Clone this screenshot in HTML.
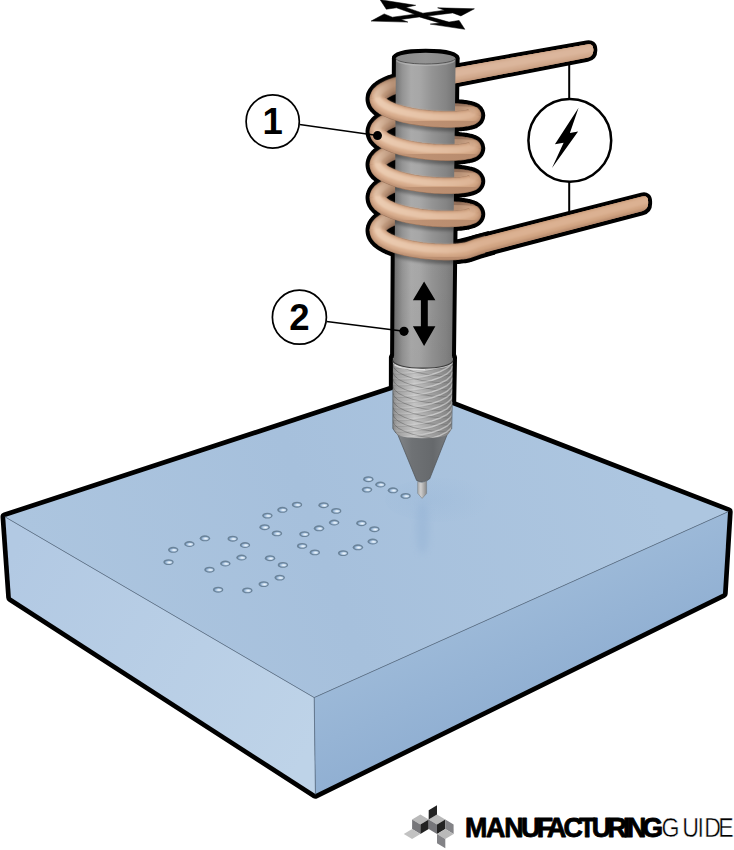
<!DOCTYPE html>
<html lang="en"><head><meta charset="utf-8"><title>Dot peen marking - Manufacturing Guide</title>
<style>
html,body{margin:0;padding:0;background:#fff;}
body{width:734px;height:850px;overflow:hidden;font-family:"Liberation Sans",sans-serif;}
svg{display:block;}
</style></head><body>
<svg width="734" height="850" viewBox="0 0 734 850">
<defs>
<linearGradient id="gTop" gradientUnits="userSpaceOnUse" x1="60" y1="640" x2="640" y2="440">
  <stop offset="0" stop-color="#acc5df"/><stop offset="0.45" stop-color="#a6c0dc"/><stop offset="1" stop-color="#adc6e0"/>
</linearGradient>
<linearGradient id="gLeft" gradientUnits="userSpaceOnUse" x1="8" y1="560" x2="315" y2="740">
  <stop offset="0" stop-color="#b2c9e3"/><stop offset="1" stop-color="#bed3e8"/>
</linearGradient>
<linearGradient id="gRight" gradientUnits="userSpaceOnUse" x1="500" y1="610" x2="540" y2="700">
  <stop offset="0" stop-color="#9cb9d8"/><stop offset="1" stop-color="#90afd2"/>
</linearGradient>
<filter id="fB3" x="-100%" y="-30%" width="300%" height="160%"><feGaussianBlur stdDeviation="3.5"/></filter>
<radialGradient id="gTipShade" gradientUnits="userSpaceOnUse" cx="430" cy="500" r="60" gradientTransform="translate(430 500) scale(1 0.45) translate(-430 -500)">
  <stop offset="0" stop-color="#8fb0d4" stop-opacity="0.22"/><stop offset="1" stop-color="#8fb0d4" stop-opacity="0"/>
</radialGradient>


<radialGradient id="gDot" cx="0.6" cy="0.55" r="0.62">
  <stop offset="0" stop-color="#f3f8fc"/><stop offset="0.35" stop-color="#d2e2f1"/><stop offset="1" stop-color="#7c9fc6"/>
</radialGradient>
<filter id="fDot" x="-30%" y="-30%" width="160%" height="160%"><feGaussianBlur stdDeviation="0.45"/></filter>
<g id="dot">
  <ellipse cx="0" cy="0" rx="5.2" ry="2.95" fill="#6b8399" filter="url(#fDot)"/>
  <ellipse cx="0.15" cy="0.15" rx="3.7" ry="1.75" fill="url(#gDot)" filter="url(#fDot)"/>
</g>


<linearGradient id="gCyl" gradientUnits="userSpaceOnUse" x1="394" y1="0" x2="455" y2="0">
  <stop offset="0" stop-color="#6c6c6c"/><stop offset="0.05" stop-color="#7b7b7b"/><stop offset="0.14" stop-color="#949494"/>
  <stop offset="0.28" stop-color="#aaaaaa"/><stop offset="0.42" stop-color="#a7a7a7"/><stop offset="0.62" stop-color="#949494"/>
  <stop offset="0.86" stop-color="#848484"/><stop offset="1" stop-color="#747474"/>
</linearGradient>
<linearGradient id="gCylV" gradientUnits="userSpaceOnUse" x1="0" y1="58" x2="0" y2="360">
  <stop offset="0" stop-color="#000" stop-opacity="0"/><stop offset="0.65" stop-color="#000" stop-opacity="0.0"/>
  <stop offset="1" stop-color="#000" stop-opacity="0.03"/>
</linearGradient>
<linearGradient id="gCap" gradientUnits="userSpaceOnUse" x1="396" y1="0" x2="455" y2="0">
  <stop offset="0" stop-color="#8a8a8a"/><stop offset="0.5" stop-color="#939393"/><stop offset="1" stop-color="#868686"/>
</linearGradient>
<linearGradient id="gKn" gradientUnits="userSpaceOnUse" x1="392.8" y1="0" x2="452.5" y2="0">
  <stop offset="0" stop-color="#888888"/><stop offset="0.07" stop-color="#a0a0a0"/>
  <stop offset="0.36" stop-color="#c4c4c4"/><stop offset="0.62" stop-color="#a4a4a4"/>
  <stop offset="0.9" stop-color="#888888"/><stop offset="1" stop-color="#767676"/>
</linearGradient>
<linearGradient id="gCone" gradientUnits="userSpaceOnUse" x1="396" y1="0" x2="449" y2="0">
  <stop offset="0" stop-color="#84878a"/><stop offset="0.3" stop-color="#6f7275"/>
  <stop offset="0.7" stop-color="#66696c"/><stop offset="1" stop-color="#7a7d80"/>
</linearGradient>
<linearGradient id="gPin" gradientUnits="userSpaceOnUse" x1="417.7" y1="0" x2="426.6" y2="0">
  <stop offset="0" stop-color="#adadad"/><stop offset="0.35" stop-color="#cfcfcf"/><stop offset="1" stop-color="#888888"/>
</linearGradient>
<linearGradient id="gGrA" gradientUnits="userSpaceOnUse" x1="392" y1="0" x2="453" y2="0">
  <stop offset="0" stop-color="#4c4c4c" stop-opacity="0.5"/><stop offset="0.6" stop-color="#4c4c4c" stop-opacity="0.42"/><stop offset="1" stop-color="#4c4c4c" stop-opacity="0.15"/>
</linearGradient>
<linearGradient id="gGrB" gradientUnits="userSpaceOnUse" x1="392" y1="0" x2="453" y2="0">
  <stop offset="0" stop-color="#fff" stop-opacity="0.05"/><stop offset="0.45" stop-color="#fff" stop-opacity="0.18"/><stop offset="0.7" stop-color="#fff" stop-opacity="0.45"/><stop offset="1" stop-color="#fff" stop-opacity="0.4"/>
</linearGradient>
<clipPath id="cKn"><path d="M392.8 360.6 A29.9 7.6 0 0 0 452.6 360.6 L451.7 429 L448.8 433.4 A26.5 5.2 0 0 1 395.9 433.2 L392.8 428.6 Z"/></clipPath>


<filter id="fB1" x="-10%" y="-10%" width="120%" height="120%"><feGaussianBlur stdDeviation="0.9"/></filter>
<filter id="fB2" x="-10%" y="-10%" width="120%" height="120%"><feGaussianBlur stdDeviation="1.7"/></filter>
<clipPath id="cCyl"><path d="M395.9 58 L455.4 58 L452.0 358 L394.1 358 Z"/></clipPath>

<clipPath id="cLead1"><path d="M425.4 72.9 L587.0 44.4 Q593.2 43.3 593.3 49.6 L593.3 50.3 Q593.4 56.6 587.2 57.8 L425.4 89.2 Z"/></clipPath>
<clipPath id="cLead2"><path d="M300 60 H485 V300 H300 Z M440.0 247.8 L641.9 196.6 Q648.0 195.1 648.1 201.4 L648.1 203.4 Q648.2 209.7 642.1 211.3 L440.0 264.5 Z"/></clipPath>

<linearGradient id="tE" gradientUnits="userSpaceOnUse" x1="368" y1="0" x2="482" y2="0"><stop offset="0" stop-color="#9f795f"/><stop offset="1" stop-color="#936e56"/></linearGradient>
<linearGradient id="tB" gradientUnits="userSpaceOnUse" x1="368" y1="0" x2="482" y2="0"><stop offset="0" stop-color="#c29678"/><stop offset="1" stop-color="#b88b6d"/></linearGradient>
<linearGradient id="tM" gradientUnits="userSpaceOnUse" x1="368" y1="0" x2="482" y2="0"><stop offset="0" stop-color="#dbb091"/><stop offset="1" stop-color="#d1a482"/></linearGradient>
<linearGradient id="tH" gradientUnits="userSpaceOnUse" x1="368" y1="0" x2="482" y2="0"><stop offset="0" stop-color="#eccdb3"/><stop offset="0.5" stop-color="#e6c3a7"/><stop offset="1" stop-color="#dbb192"/></linearGradient>
<linearGradient id="bE" gradientUnits="userSpaceOnUse" x1="368" y1="0" x2="482" y2="0"><stop offset="0.03" stop-color="#9f795f"/><stop offset="0.22" stop-color="#654c3d"/><stop offset="0.8" stop-color="#654c3d"/><stop offset="0.97" stop-color="#936e56"/></linearGradient>
<linearGradient id="bB" gradientUnits="userSpaceOnUse" x1="368" y1="0" x2="482" y2="0"><stop offset="0.03" stop-color="#c29678"/><stop offset="0.22" stop-color="#93705a"/><stop offset="0.8" stop-color="#93705a"/><stop offset="0.97" stop-color="#b88b6d"/></linearGradient>
<linearGradient id="bM" gradientUnits="userSpaceOnUse" x1="368" y1="0" x2="482" y2="0"><stop offset="0.03" stop-color="#dbb091"/><stop offset="0.22" stop-color="#aa856a"/><stop offset="0.8" stop-color="#aa856a"/><stop offset="0.97" stop-color="#d1a482"/></linearGradient>
<linearGradient id="bH" gradientUnits="userSpaceOnUse" x1="368" y1="0" x2="482" y2="0"><stop offset="0.03" stop-color="#eccdb3"/><stop offset="0.22" stop-color="#b79176"/><stop offset="0.8" stop-color="#b79176"/><stop offset="0.97" stop-color="#dbb192"/></linearGradient>
</defs>
<rect width="734" height="850" fill="#fff"/>
<path d="M425.4 79.7 L423.3 80.0 L421.2 80.2 L419.1 80.5 L417.0 80.8 L414.9 81.2 L412.8 81.5 L410.8 81.9 L408.8 82.3 L406.8 82.7 L404.9 83.1 L403.0 83.6 L401.2 84.0 L399.4 84.5 L397.6 85.0 L395.9 85.6 L394.3 86.1 L392.7 86.7 L391.2 87.2 L389.8 87.8 L388.4 88.4 L387.1 89.0 L385.9 89.7 L384.7 90.3 L383.7 91.0 L382.7 91.6 L381.8 92.3 L381.0 93.0 L380.3 93.7 L379.7 94.4 L379.1 95.1 L378.7 95.8 L378.3 96.5 L378.0 97.2 L377.9 98.0 L377.8 98.7 L377.8 99.4 L377.9 100.1 L378.1 100.9 L378.4 101.6 L378.8 102.3 L379.3 103.0 L379.9 103.7 L380.6 104.4 L381.3 105.1 L382.2 105.8 L383.1 106.5 L384.1 107.1 L385.2 107.8 L386.4 108.4 L387.6 109.0 L389.0 109.7 L390.4 110.3 L391.8 110.9 L393.4 111.4 L395.0 112.0 L396.6 112.5 L398.3 113.0 L400.1 113.6 L401.9 114.0 L403.8 114.5 L405.7 115.0 L407.6 115.4 L409.6 115.8 L411.6 116.2 L413.7 116.5 L415.7 116.9 L417.8 117.2 L419.9 117.5 L422.0 117.8 L424.2 118.1 L426.3 118.3 L428.4 118.5 L430.5 118.7 L432.6 118.9 L434.7 119.0 L436.8 119.2 L438.8 119.3 L440.8 119.3 L442.8 119.4 L444.8 119.5 L446.7 119.5 L448.5 119.5 L450.4 119.5 L452.2 119.4 L453.9 119.4 L455.5 119.3 L457.2 119.2 L458.7 119.1 L460.2 119.0 L461.6 118.9 L462.9 118.7 L464.2 118.6 L465.4 118.4 L466.5 118.2 L467.5 118.0 L468.5 117.8 L469.3 117.6 L470.1 117.4 L470.8 117.1 L471.4 116.9 L471.9 116.6 L472.3 116.4 L472.6 116.1 L472.8 115.9 L473.0 115.6 L473.0 115.3 L472.9 115.1 L472.8 114.8 L472.5 114.6 L472.2 114.3 L471.8 114.1 L471.2 113.8 L470.6 113.6 L469.9 113.3 L469.1 113.1 L468.3 112.9 L467.3 112.7 L466.2 112.5 L465.1 112.3 L463.9 112.1 L462.6 112.0 L461.3 111.8 L459.8 111.7 L458.3 111.6 L456.8 111.4 L455.2 111.4 L453.5 111.3 L451.7 111.2 L450.0 111.2 L448.1 111.2 L446.2 111.2 L444.3 111.2 L442.3 111.3 L440.3 111.3 L438.3 111.4 L436.3 111.5 L434.2 111.6 L432.1 111.8 L430.0 112.0 L427.9 112.2 L425.8 112.4 L423.7 112.6 L421.5 112.9 L419.4 113.2 L417.3 113.5 L415.3 113.8 L413.2 114.1 L411.2 114.5 L409.2 114.9 L407.2 115.3 L405.2 115.8 L403.3 116.2 L401.5 116.7 L399.7 117.2 L397.9 117.7 L396.2 118.2 L394.6 118.8 L393.0 119.3 L391.5 119.9 L390.0 120.5 L388.6 121.1 L387.3 121.7 L386.1 122.4 L384.9 123.0 L383.9 123.7 L382.9 124.4 L382.0 125.0 L381.1 125.7 L380.4 126.4 L379.8 127.1 L379.2 127.9 L378.7 128.6 L378.4 129.3 L378.1 130.0 L377.9 130.8 L377.8 131.5 L377.8 132.2 L377.9 133.0 L378.1 133.7 L378.4 134.4 L378.8 135.2 L379.2 135.9 L379.8 136.6 L380.4 137.3 L381.2 138.0 L382.0 138.7 L382.9 139.4 L383.9 140.1 L385.0 140.7 L386.2 141.4 L387.4 142.0 L388.7 142.7 L390.1 143.3 L391.6 143.9 L393.1 144.5 L394.7 145.0 L396.3 145.6 L398.0 146.1 L399.8 146.6 L401.6 147.1 L403.5 147.6 L405.4 148.1 L407.3 148.5 L409.3 148.9 L411.3 149.3 L413.3 149.7 L415.4 150.0 L417.5 150.4 L419.6 150.7 L421.7 151.0 L423.8 151.2 L425.9 151.5 L428.0 151.7 L430.1 151.9 L432.2 152.0 L434.3 152.2 L436.4 152.3 L438.4 152.4 L440.5 152.5 L442.5 152.6 L444.4 152.6 L446.3 152.7 L448.2 152.7 L450.1 152.6 L451.8 152.6 L453.6 152.5 L455.3 152.5 L456.9 152.4 L458.4 152.3 L459.9 152.2 L461.4 152.0 L462.7 151.9 L464.0 151.7 L465.2 151.5 L466.3 151.3 L467.4 151.1 L468.3 150.9 L469.2 150.7 L470.0 150.4 L470.7 150.2 L471.3 149.9 L471.8 149.7 L472.2 149.4 L472.6 149.2 L472.8 148.9 L472.9 148.6 L473.0 148.3 L473.0 148.1 L472.8 147.8 L472.6 147.5 L472.3 147.3 L471.9 147.0 L471.3 146.7 L470.7 146.5 L470.1 146.2 L469.3 146.0 L468.4 145.8 L467.5 145.5 L466.4 145.3 L465.3 145.1 L464.1 144.9 L462.9 144.8 L461.5 144.6 L460.1 144.5 L458.6 144.3 L457.1 144.2 L455.5 144.1 L453.8 144.0 L452.1 144.0 L450.3 143.9 L448.4 143.9 L446.6 143.9 L444.6 143.9 L442.7 144.0 L440.7 144.0 L438.7 144.1 L436.6 144.2 L434.6 144.3 L432.5 144.5 L430.4 144.6 L428.3 144.8 L426.1 145.0 L424.0 145.3 L421.9 145.5 L419.8 145.8 L417.7 146.1 L415.6 146.4 L413.6 146.8 L411.5 147.2 L409.5 147.6 L407.5 148.0 L405.6 148.4 L403.7 148.9 L401.8 149.3 L400.0 149.8 L398.2 150.3 L396.5 150.9 L394.9 151.4 L393.3 152.0 L391.7 152.6 L390.3 153.2 L388.9 153.8 L387.6 154.4 L386.3 155.1 L385.1 155.7 L384.1 156.4 L383.0 157.1 L382.1 157.8 L381.3 158.5 L380.5 159.2 L379.9 159.9 L379.3 160.6 L378.8 161.4 L378.4 162.1 L378.1 162.8 L377.9 163.6 L377.8 164.3 L377.8 165.1 L377.9 165.8 L378.1 166.6 L378.3 167.3 L378.7 168.0 L379.1 168.8 L379.7 169.5 L380.3 170.2 L381.1 170.9 L381.9 171.6 L382.8 172.3 L383.7 173.0 L384.8 173.7 L386.0 174.4 L387.2 175.0 L388.5 175.7 L389.9 176.3 L391.3 176.9 L392.8 177.5 L394.4 178.1 L396.0 178.6 L397.7 179.2 L399.5 179.7 L401.3 180.2 L403.1 180.7 L405.0 181.2 L407.0 181.6 L408.9 182.0 L410.9 182.4 L413.0 182.8 L415.0 183.2 L417.1 183.5 L419.2 183.8 L421.3 184.1 L423.4 184.4 L425.5 184.6 L427.6 184.8 L429.8 185.0 L431.9 185.2 L434.0 185.4 L436.0 185.5 L438.1 185.6 L440.1 185.7 L442.1 185.8 L444.1 185.8 L446.0 185.8 L447.9 185.8 L449.7 185.8 L451.5 185.8 L453.3 185.7 L455.0 185.6 L456.6 185.5 L458.2 185.4 L459.7 185.3 L461.1 185.2 L462.5 185.0 L463.8 184.8 L465.0 184.6 L466.1 184.4 L467.2 184.2 L468.1 184.0 L469.0 183.8 L469.8 183.5 L470.6 183.3 L471.2 183.0 L471.7 182.7 L472.2 182.5 L472.5 182.2 L472.8 181.9 L472.9 181.6 L473.0 181.3 L473.0 181.1 L472.9 180.8 L472.6 180.5 L472.3 180.2 L471.9 179.9 L471.4 179.7 L470.9 179.4 L470.2 179.1 L469.4 178.9 L468.6 178.7 L467.6 178.4 L466.6 178.2 L465.5 178.0 L464.3 177.8 L463.1 177.6 L461.8 177.4 L460.4 177.3 L458.9 177.1 L457.3 177.0 L455.7 176.9 L454.1 176.8 L452.4 176.7 L450.6 176.7 L448.8 176.7 L446.9 176.6 L445.0 176.6 L443.0 176.7 L441.1 176.7 L439.0 176.8 L437.0 176.9 L434.9 177.0 L432.8 177.1 L430.7 177.3 L428.6 177.5 L426.5 177.7 L424.4 177.9 L422.3 178.2 L420.2 178.5 L418.1 178.8 L416.0 179.1 L413.9 179.4 L411.9 179.8 L409.9 180.2 L407.9 180.6 L405.9 181.0 L404.0 181.5 L402.1 182.0 L400.3 182.5 L398.5 183.0 L396.8 183.5 L395.2 184.1 L393.5 184.6 L392.0 185.2 L390.5 185.8 L389.1 186.5 L387.8 187.1 L386.5 187.8 L385.3 188.4 L384.2 189.1 L383.2 189.8 L382.3 190.5 L381.4 191.2 L380.7 191.9 L380.0 192.6 L379.4 193.4 L378.9 194.1 L378.5 194.9 L378.2 195.6 L378.0 196.4 L377.8 197.1 L377.8 197.9 L377.9 198.6 L378.0 199.4 L378.3 200.1 L378.6 200.9 L379.1 201.6 L379.6 202.4 L380.2 203.1 L380.9 203.8 L381.7 204.6 L382.6 205.3 L383.6 206.0 L384.6 206.7 L385.8 207.3 L387.0 208.0 L388.3 208.7 L389.6 209.3 L391.0 209.9 L392.5 210.5 L394.1 211.1 L395.7 211.7 L397.4 212.2 L399.2 212.8 L401.0 213.3 L402.8 213.8 L404.7 214.2 L406.6 214.7 L408.6 215.1 L410.6 215.5 L412.6 215.9 L414.7 216.3 L416.7 216.6 L418.8 217.0 L420.9 217.3 L423.0 217.5 L425.2 217.8 L427.3 218.0 L429.4 218.2 L431.5 218.4 L433.6 218.5 L435.7 218.7 L437.7 218.8 L439.8 218.9 L441.8 218.9 L443.7 219.0 L445.7 219.0 L447.6 219.0 L449.4 219.0 L451.2 218.9 L453.0 218.9 L454.7 218.8 L456.3 218.7 L457.9 218.6 L459.4 218.5 L460.9 218.3 L462.2 218.1 L463.5 218.0 L464.8 217.8 L465.9 217.6 L467.0 217.3 L468.0 217.1 L468.9 216.9 L469.7 216.6 L470.4 216.3 L471.1 216.1 L471.6 215.8 L472.1 215.5 L472.5 215.2 L472.7 214.9 L472.9 214.6 L473.0 214.3 L473.0 214.1 L472.9 213.8 L472.7 213.5 L472.4 213.2 L472.0 212.9 L471.5 212.6 L471.0 212.3 L470.3 212.1 L469.6 211.8 L468.7 211.5 L467.8 211.3 L466.8 211.1 L465.7 210.8 L464.6 210.6 L463.3 210.4 L462.0 210.2 L460.6 210.1 L459.1 209.9 L457.6 209.8 L456.0 209.7 L454.4 209.6 L452.7 209.5 L450.9 209.4 L449.1 209.4 L447.2 209.4 L445.3 209.4 L443.4 209.4 L441.4 209.4 L439.4 209.5 L437.4 209.6 L435.3 209.7 L433.2 209.8 L431.1 210.0 L429.0 210.2 L426.9 210.4 L424.8 210.6 L422.7 210.8 L420.5 211.1 L418.4 211.4 L416.4 211.7 L414.3 212.1 L412.2 212.4 L410.2 212.8 L408.2 213.2 L406.3 213.7 L404.3 214.1 L402.5 214.6 L400.6 215.1 L398.9 215.6 L397.1 216.2 L395.4 216.7 L393.8 217.3 L392.3 217.9 L390.8 218.5 L389.4 219.1 L388.0 219.8 L386.7 220.4 L385.5 221.1 L384.4 221.8 L383.4 222.5 L382.4 223.2 L381.6 223.9 L380.8 224.7 L380.1 225.4 L379.5 226.1 L379.0 226.9 L378.6 227.6 L378.2 228.4 L378.0 229.2 L377.8 229.9 L377.8 230.7 L377.9 229.8 L377.8 230.7 L377.9 231.6 L378.1 232.5 L378.4 233.5 L378.9 234.4 L379.5 235.3 L380.2 236.2 L381.1 237.1 L382.1 237.9 L383.2 238.8 L384.4 239.6 L385.8 240.4 L387.2 241.3 L388.8 242.0 L390.5 242.8 L392.3 243.5 L394.1 244.3 L396.1 245.0 L398.2 245.6 L400.3 246.3 L402.5 246.9 L404.7 247.4 L407.0 248.0 L409.4 248.5 L411.8 249.0 L414.3 249.4 L416.8 249.8 L419.3 250.2 L421.8 250.6 L424.4 250.9 L426.9 251.2 L429.4 251.4 L432.0 251.6 L434.5 251.8 L436.9 251.9 L439.4 252.0 L441.8 252.1 L444.2 252.2 L446.5 252.2 L448.7 252.2 L450.9 252.1 L453.0 252.0 L455.0 251.9 L457.0 251.8 L458.8 251.6 L460.6 251.4 L462.3 251.2 L463.8 251.0 L465.3 250.8 L466.6 250.5 L467.8 250.2 L478.0 246.6 L492.0 242.7" fill="none" stroke="#000" stroke-width="24.5" stroke-linejoin="round" stroke-linecap="butt"/>
<path d="M425.4 79.7 L421.7 80.2 L418.0 80.7 L414.3 81.3 L410.7 81.9 L407.2 82.6 L403.8 83.4 L400.5 84.2 L397.4 85.1 L394.5 86.0 L391.7 87.0 L389.2 88.1 L386.9 89.2 L384.8 90.3 L383.0 91.4 L381.4 92.6 L380.1 93.9 L379.1 95.1 L378.4 96.4 L377.9 97.6 L377.8 98.9 L377.9 100.2 L378.4 101.4 L379.1 102.7 L380.1 104.0 L381.4 105.2 L383.0 106.4 L384.8 107.5 L386.9 108.7 L389.2 109.8 L391.7 110.8 L394.5 111.8 L397.4 112.8 L400.5 113.7 L403.8 114.5 L407.2 115.3 L410.7 116.0 L414.3 116.6 L418.0 117.2 L421.7 117.8 L425.4 118.2 L429.1 118.6 L432.8 118.9 L436.5 119.1 L440.1 119.3 L443.6 119.4 L447.0 119.5 L450.3 119.5 L453.4 119.4 L456.3 119.3 L459.1 119.1 L461.6 118.9 L463.9 118.6 L466.0 118.3 L467.8 117.9 L469.4 117.6 L470.7 117.2 L471.7 116.7 L472.4 116.3 L472.9 115.8 L473.0 115.4 L472.9 114.9 L472.4 114.5 L471.7 114.0 L470.7 113.6 L469.4 113.2 L467.8 112.8 L466.0 112.4 L463.9 112.1 L461.6 111.8 L459.1 111.6 L456.3 111.4 L453.4 111.3 L450.3 111.2 L447.0 111.2 L443.6 111.2 L440.1 111.3 L436.5 111.5 L432.8 111.7 L429.1 112.0 L425.4 112.4 L421.7 112.9 L418.0 113.4 L414.3 114.0 L410.7 114.6 L407.2 115.3 L403.8 116.1 L400.5 116.9 L397.4 117.8 L394.5 118.8 L391.7 119.8 L389.2 120.9 L386.9 122.0 L384.8 123.1 L383.0 124.3 L381.4 125.5 L380.1 126.7 L379.1 128.0 L378.4 129.3 L377.9 130.6 L377.8 131.9 L377.9 133.1 L378.4 134.4 L379.1 135.7 L380.1 137.0 L381.4 138.2 L383.0 139.4 L384.8 140.6 L386.9 141.8 L389.2 142.9 L391.7 143.9 L394.5 145.0 L397.4 145.9 L400.5 146.8 L403.8 147.7 L407.2 148.5 L410.7 149.2 L414.3 149.8 L418.0 150.4 L421.7 151.0 L425.4 151.4 Z" fill="#000"/>
<path d="M425.4 112.4 L421.7 112.9 L418.0 113.4 L414.3 114.0 L410.7 114.6 L407.2 115.3 L403.8 116.1 L400.5 116.9 L397.4 117.8 L394.5 118.8 L391.7 119.8 L389.2 120.9 L386.9 122.0 L384.8 123.1 L383.0 124.3 L381.4 125.5 L380.1 126.7 L379.1 128.0 L378.4 129.3 L377.9 130.6 L377.8 131.9 L377.9 133.1 L378.4 134.4 L379.1 135.7 L380.1 137.0 L381.4 138.2 L383.0 139.4 L384.8 140.6 L386.9 141.8 L389.2 142.9 L391.7 143.9 L394.5 145.0 L397.4 145.9 L400.5 146.8 L403.8 147.7 L407.2 148.5 L410.7 149.2 L414.3 149.8 L418.0 150.4 L421.7 151.0 L425.4 151.4 L429.1 151.8 L432.8 152.1 L436.5 152.3 L440.1 152.5 L443.6 152.6 L447.0 152.7 L450.3 152.6 L453.4 152.6 L456.3 152.4 L459.1 152.2 L461.6 152.0 L463.9 151.7 L466.0 151.4 L467.8 151.0 L469.4 150.6 L470.7 150.2 L471.7 149.7 L472.4 149.3 L472.9 148.8 L473.0 148.3 L472.9 147.8 L472.4 147.4 L471.7 146.9 L470.7 146.5 L469.4 146.0 L467.8 145.6 L466.0 145.3 L463.9 144.9 L461.6 144.6 L459.1 144.4 L456.3 144.2 L453.4 144.0 L450.3 143.9 L447.0 143.9 L443.6 143.9 L440.1 144.0 L436.5 144.2 L432.8 144.4 L429.1 144.7 L425.4 145.1 L421.7 145.6 L418.0 146.1 L414.3 146.7 L410.7 147.3 L407.2 148.0 L403.8 148.8 L400.5 149.7 L397.4 150.6 L394.5 151.5 L391.7 152.6 L389.2 153.6 L386.9 154.8 L384.8 155.9 L383.0 157.1 L381.4 158.3 L380.1 159.6 L379.1 160.9 L378.4 162.2 L377.9 163.5 L377.8 164.8 L377.9 166.1 L378.4 167.4 L379.1 168.7 L380.1 170.0 L381.4 171.3 L383.0 172.5 L384.8 173.7 L386.9 174.9 L389.2 176.0 L391.7 177.1 L394.5 178.1 L397.4 179.1 L400.5 180.0 L403.8 180.9 L407.2 181.6 L410.7 182.4 L414.3 183.0 L418.0 183.6 L421.7 184.2 L425.4 184.6 Z" fill="#000"/>
<path d="M425.4 145.1 L421.7 145.6 L418.0 146.1 L414.3 146.7 L410.7 147.3 L407.2 148.0 L403.8 148.8 L400.5 149.7 L397.4 150.6 L394.5 151.5 L391.7 152.6 L389.2 153.6 L386.9 154.8 L384.8 155.9 L383.0 157.1 L381.4 158.3 L380.1 159.6 L379.1 160.9 L378.4 162.2 L377.9 163.5 L377.8 164.8 L377.9 166.1 L378.4 167.4 L379.1 168.7 L380.1 170.0 L381.4 171.3 L383.0 172.5 L384.8 173.7 L386.9 174.9 L389.2 176.0 L391.7 177.1 L394.5 178.1 L397.4 179.1 L400.5 180.0 L403.8 180.9 L407.2 181.6 L410.7 182.4 L414.3 183.0 L418.0 183.6 L421.7 184.2 L425.4 184.6 L429.1 185.0 L432.8 185.3 L436.5 185.5 L440.1 185.7 L443.6 185.8 L447.0 185.8 L450.3 185.8 L453.4 185.7 L456.3 185.6 L459.1 185.4 L461.6 185.1 L463.9 184.8 L466.0 184.5 L467.8 184.1 L469.4 183.7 L470.7 183.2 L471.7 182.8 L472.4 182.3 L472.9 181.8 L473.0 181.3 L472.9 180.8 L472.4 180.3 L471.7 179.8 L470.7 179.3 L469.4 178.9 L467.8 178.5 L466.0 178.1 L463.9 177.7 L461.6 177.4 L459.1 177.1 L456.3 176.9 L453.4 176.8 L450.3 176.7 L447.0 176.6 L443.6 176.7 L440.1 176.8 L436.5 176.9 L432.8 177.1 L429.1 177.4 L425.4 177.8 L421.7 178.3 L418.0 178.8 L414.3 179.4 L410.7 180.0 L407.2 180.8 L403.8 181.6 L400.5 182.4 L397.4 183.3 L394.5 184.3 L391.7 185.3 L389.2 186.4 L386.9 187.6 L384.8 188.7 L383.0 190.0 L381.4 191.2 L380.1 192.5 L379.1 193.8 L378.4 195.1 L377.9 196.4 L377.8 197.8 L377.9 199.1 L378.4 200.4 L379.1 201.7 L380.1 203.0 L381.4 204.3 L383.0 205.6 L384.8 206.8 L386.9 208.0 L389.2 209.1 L391.7 210.2 L394.5 211.2 L397.4 212.2 L400.5 213.2 L403.8 214.0 L407.2 214.8 L410.7 215.6 L414.3 216.2 L418.0 216.8 L421.7 217.4 L425.4 217.8 Z" fill="#000"/>
<path d="M425.4 177.8 L421.7 178.3 L418.0 178.8 L414.3 179.4 L410.7 180.0 L407.2 180.8 L403.8 181.6 L400.5 182.4 L397.4 183.3 L394.5 184.3 L391.7 185.3 L389.2 186.4 L386.9 187.6 L384.8 188.7 L383.0 190.0 L381.4 191.2 L380.1 192.5 L379.1 193.8 L378.4 195.1 L377.9 196.4 L377.8 197.8 L377.9 199.1 L378.4 200.4 L379.1 201.7 L380.1 203.0 L381.4 204.3 L383.0 205.6 L384.8 206.8 L386.9 208.0 L389.2 209.1 L391.7 210.2 L394.5 211.2 L397.4 212.2 L400.5 213.2 L403.8 214.0 L407.2 214.8 L410.7 215.6 L414.3 216.2 L418.0 216.8 L421.7 217.4 L425.4 217.8 L429.1 218.2 L432.8 218.5 L436.5 218.7 L440.1 218.9 L443.6 219.0 L447.0 219.0 L450.3 219.0 L453.4 218.9 L456.3 218.7 L459.1 218.5 L461.6 218.2 L463.9 217.9 L466.0 217.5 L467.8 217.1 L469.4 216.7 L470.7 216.2 L471.7 215.8 L472.4 215.3 L472.9 214.7 L473.0 214.2 L472.9 213.7 L472.4 213.2 L471.7 212.7 L470.7 212.2 L469.4 211.7 L467.8 211.3 L466.0 210.9 L463.9 210.5 L461.6 210.2 L459.1 209.9 L456.3 209.7 L453.4 209.5 L450.3 209.4 L447.0 209.4 L443.6 209.4 L440.1 209.5 L436.5 209.6 L432.8 209.8 L429.1 210.1 L425.4 210.5 L421.7 211.0 L418.0 211.5 L414.3 212.1 L410.7 212.7 L407.2 213.5 L403.8 214.3 L400.5 215.1 L397.4 216.1 L394.5 217.1 L391.7 218.1 L389.2 219.2 L386.9 220.4 L384.8 221.6 L383.0 222.8 L381.4 224.1 L380.1 225.3 L379.1 226.7 L378.4 228.0 L377.9 229.3 L377.8 230.7 L377.9 232.1 L378.4 233.4 L379.1 234.7 L380.1 236.1 L381.4 237.4 L383.0 238.6 L384.8 239.9 L386.9 241.1 L389.2 242.2 L391.7 243.3 L394.5 244.4 L397.4 245.4 L400.5 246.3 L403.8 247.2 L407.2 248.0 L410.7 248.8 L414.3 249.4 L418.0 250.0 L421.7 250.6 L425.4 251.0 Z" fill="#000"/>
<path d="M440.0 247.8 L641.9 196.6 Q648.0 195.1 648.1 201.4 L648.1 203.4 Q648.2 209.7 642.1 211.3 L440.0 264.5 Z" fill="#000" stroke="#000" stroke-width="8.0" stroke-linejoin="round"/>
<path d="M425.4 72.9 L587.0 44.4 Q593.2 43.3 593.3 49.6 L593.3 50.3 Q593.4 56.6 587.2 57.8 L425.4 89.2 Z" fill="#000" stroke="#000" stroke-width="8.0" stroke-linejoin="round"/>
<path d="M395.9 58.4 L455.6 58.4 L452.0 355.0 L453.0 357.5 L451.7 429.0 L448.8 433.4 L429.7 478.8 L416.6 480.4 L395.9 433.0 L392.8 428.6 L392.9 357.5 L394.1 355.0 Z" fill="#000" stroke="#000" stroke-width="8.0" stroke-linejoin="round"/><ellipse cx="425.65" cy="58.4" rx="29.75" ry="5.6" fill="#000" stroke="#000" stroke-width="8.0"/>
<path d="M5.2 517.0 L403.7 386.3 L728.0 511.8 L723.0 593.6 L315.4 794.0 L10.9 597.5 Z" fill="#000" stroke="#000" stroke-width="9.4" stroke-linejoin="round"/>
<path d="M5.2 517.0 L403.7 386.3 L728.0 511.8 L314.2 697.6 Z" fill="url(#gTop)"/>
<path d="M5.2 517.0 L314.2 697.6 L315.4 794.0 L10.9 597.5 Z" fill="url(#gLeft)"/>
<path d="M314.2 697.6 L728.0 511.8 L723.0 593.6 L315.4 794.0 Z" fill="url(#gRight)"/>
<ellipse cx="440" cy="500" rx="55" ry="22" fill="url(#gTipShade)"/>
<ellipse cx="422.5" cy="528" rx="6.5" ry="26" fill="#86a8cf" opacity="0.28" filter="url(#fB3)"/>
<path d="M5.2 517.0 L314.2 697.6 L728.0 511.8 M314.2 697.6 L315.4 794.0" fill="none" stroke="#60748a" stroke-width="0.8" stroke-linecap="round"/>
<use href="#dot" x="368.3" y="479.2"/>
<use href="#dot" x="380.4" y="484.5"/>
<use href="#dot" x="367.0" y="489.6"/>
<use href="#dot" x="392.9" y="490.3"/>
<use href="#dot" x="405.6" y="495.9"/>
<use href="#dot" x="297.0" y="504.7"/>
<use href="#dot" x="282.4" y="509.8"/>
<use href="#dot" x="267.4" y="515.6"/>
<use href="#dot" x="323.6" y="505.2"/>
<use href="#dot" x="336.2" y="510.9"/>
<use href="#dot" x="264.6" y="527.2"/>
<use href="#dot" x="276.9" y="533.4"/>
<use href="#dot" x="334.1" y="522.5"/>
<use href="#dot" x="319.0" y="528.3"/>
<use href="#dot" x="304.4" y="534.1"/>
<use href="#dot" x="361.4" y="523.2"/>
<use href="#dot" x="374.4" y="529.2"/>
<use href="#dot" x="372.7" y="541.5"/>
<use href="#dot" x="357.9" y="547.3"/>
<use href="#dot" x="343.1" y="553.1"/>
<use href="#dot" x="302.1" y="545.9"/>
<use href="#dot" x="314.8" y="552.4"/>
<use href="#dot" x="204.9" y="538.3"/>
<use href="#dot" x="189.4" y="544.0"/>
<use href="#dot" x="173.2" y="549.8"/>
<use href="#dot" x="168.5" y="562.1"/>
<use href="#dot" x="232.7" y="538.7"/>
<use href="#dot" x="245.0" y="545.0"/>
<use href="#dot" x="241.5" y="557.5"/>
<use href="#dot" x="225.3" y="563.5"/>
<use href="#dot" x="209.5" y="569.7"/>
<use href="#dot" x="218.1" y="589.7"/>
<use href="#dot" x="247.3" y="590.4"/>
<use href="#dot" x="263.7" y="584.1"/>
<use href="#dot" x="279.7" y="577.6"/>
<use href="#dot" x="282.9" y="564.9"/>
<use href="#dot" x="270.0" y="558.2"/>
<path d="M395.9 430.0 L416.6 480.4 Q423 484.5 429.7 478.8 L448.8 430.4 Z" fill="url(#gCone)" stroke="#4d5256" stroke-width="0.7"/>
<path d="M417.7 481.5 L417.7 493.3 L422.1 498.4 L426.6 493.5 L426.6 481 Q422 483.5 417.7 481.5 Z" fill="url(#gPin)" stroke="#6e7479" stroke-width="0.5"/>
<path d="M392.9 358 L392.8 428.6 L395.9 433.0 A26.5 5.4 0 0 0 448.8 433.4 L451.7 429 L452.9 358 Z" fill="url(#gKn)"/>
<g clip-path="url(#cKn)">
<path d="M392.6 329.2 L394.1 333.3 L398.3 337.2 L405.0 340.6 L413.3 343.5 L422.6 345.6 L431.9 347.0 L440.2 347.7 L446.9 347.7 L451.1 347.4 L452.6 346.8 M392.6 336.2 L394.1 340.3 L398.3 344.2 L405.0 347.6 L413.3 350.5 L422.6 352.6 L431.9 354.0 L440.2 354.7 L446.9 354.7 L451.1 354.4 L452.6 353.8 M392.6 343.2 L394.1 347.3 L398.3 351.2 L405.0 354.6 L413.3 357.5 L422.6 359.6 L431.9 361.0 L440.2 361.7 L446.9 361.7 L451.1 361.4 L452.6 360.8 M392.6 350.2 L394.1 354.3 L398.3 358.2 L405.0 361.6 L413.3 364.5 L422.6 366.6 L431.9 368.0 L440.2 368.7 L446.9 368.7 L451.1 368.4 L452.6 367.8 M392.6 357.2 L394.1 361.3 L398.3 365.2 L405.0 368.6 L413.3 371.5 L422.6 373.6 L431.9 375.0 L440.2 375.7 L446.9 375.7 L451.1 375.4 L452.6 374.8 M392.6 364.2 L394.1 368.3 L398.3 372.2 L405.0 375.6 L413.3 378.5 L422.6 380.6 L431.9 382.0 L440.2 382.7 L446.9 382.7 L451.1 382.4 L452.6 381.8 M392.6 371.2 L394.1 375.3 L398.3 379.2 L405.0 382.6 L413.3 385.5 L422.6 387.6 L431.9 389.0 L440.2 389.7 L446.9 389.7 L451.1 389.4 L452.6 388.8 M392.6 378.2 L394.1 382.3 L398.3 386.2 L405.0 389.6 L413.3 392.5 L422.6 394.6 L431.9 396.0 L440.2 396.7 L446.9 396.7 L451.1 396.4 L452.6 395.8 M392.6 385.2 L394.1 389.3 L398.3 393.2 L405.0 396.6 L413.3 399.5 L422.6 401.6 L431.9 403.0 L440.2 403.7 L446.9 403.7 L451.1 403.4 L452.6 402.8 M392.6 392.2 L394.1 396.3 L398.3 400.2 L405.0 403.6 L413.3 406.5 L422.6 408.6 L431.9 410.0 L440.2 410.7 L446.9 410.7 L451.1 410.4 L452.6 409.8 M392.6 399.2 L394.1 403.3 L398.3 407.2 L405.0 410.6 L413.3 413.5 L422.6 415.6 L431.9 417.0 L440.2 417.7 L446.9 417.7 L451.1 417.4 L452.6 416.8 M392.6 406.2 L394.1 410.3 L398.3 414.2 L405.0 417.6 L413.3 420.5 L422.6 422.6 L431.9 424.0 L440.2 424.7 L446.9 424.7 L451.1 424.4 L452.6 423.8 M392.6 413.2 L394.1 417.3 L398.3 421.2 L405.0 424.6 L413.3 427.5 L422.6 429.6 L431.9 431.0 L440.2 431.7 L446.9 431.7 L451.1 431.4 L452.6 430.8 M392.6 420.2 L394.1 424.3 L398.3 428.2 L405.0 431.6 L413.3 434.5 L422.6 436.6 L431.9 438.0 L440.2 438.7 L446.9 438.7 L451.1 438.4 L452.6 437.8 M392.6 427.2 L394.1 431.3 L398.3 435.2 L405.0 438.6 L413.3 441.5 L422.6 443.6 L431.9 445.0 L440.2 445.7 L446.9 445.7 L451.1 445.4 L452.6 444.8 M392.6 434.2 L394.1 438.3 L398.3 442.2 L405.0 445.6 L413.3 448.5 L422.6 450.6 L431.9 452.0 L440.2 452.7 L446.9 452.7 L451.1 452.4 L452.6 451.8 M392.6 441.2 L394.1 445.3 L398.3 449.2 L405.0 452.6 L413.3 455.5 L422.6 457.6 L431.9 459.0 L440.2 459.7 L446.9 459.7 L451.1 459.4 L452.6 458.8" fill="none" stroke="url(#gGrA)" stroke-width="0.9"/>
<path d="M392.6 348.8 L394.1 349.4 L398.3 349.7 L405.0 349.7 L413.3 349.0 L422.6 347.6 L431.9 345.5 L440.2 342.6 L446.9 339.2 L451.1 335.3 L452.6 331.2 M392.6 354.6 L394.1 355.2 L398.3 355.5 L405.0 355.5 L413.3 354.8 L422.6 353.4 L431.9 351.3 L440.2 348.4 L446.9 345.0 L451.1 341.1 L452.6 337.0 M392.6 360.4 L394.1 361.0 L398.3 361.3 L405.0 361.3 L413.3 360.6 L422.6 359.2 L431.9 357.1 L440.2 354.2 L446.9 350.8 L451.1 346.9 L452.6 342.8 M392.6 366.2 L394.1 366.8 L398.3 367.1 L405.0 367.1 L413.3 366.4 L422.6 365.0 L431.9 362.9 L440.2 360.0 L446.9 356.6 L451.1 352.7 L452.6 348.6 M392.6 372.0 L394.1 372.6 L398.3 372.9 L405.0 372.9 L413.3 372.2 L422.6 370.8 L431.9 368.7 L440.2 365.8 L446.9 362.4 L451.1 358.5 L452.6 354.4 M392.6 377.8 L394.1 378.4 L398.3 378.7 L405.0 378.7 L413.3 378.0 L422.6 376.6 L431.9 374.5 L440.2 371.6 L446.9 368.2 L451.1 364.3 L452.6 360.2 M392.6 383.6 L394.1 384.2 L398.3 384.5 L405.0 384.5 L413.3 383.8 L422.6 382.4 L431.9 380.3 L440.2 377.4 L446.9 374.0 L451.1 370.1 L452.6 366.0 M392.6 389.4 L394.1 390.0 L398.3 390.3 L405.0 390.3 L413.3 389.6 L422.6 388.2 L431.9 386.1 L440.2 383.2 L446.9 379.8 L451.1 375.9 L452.6 371.8 M392.6 395.2 L394.1 395.8 L398.3 396.1 L405.0 396.1 L413.3 395.4 L422.6 394.0 L431.9 391.9 L440.2 389.0 L446.9 385.6 L451.1 381.7 L452.6 377.6 M392.6 401.0 L394.1 401.6 L398.3 401.9 L405.0 401.9 L413.3 401.2 L422.6 399.8 L431.9 397.7 L440.2 394.8 L446.9 391.4 L451.1 387.5 L452.6 383.4 M392.6 406.8 L394.1 407.4 L398.3 407.7 L405.0 407.7 L413.3 407.0 L422.6 405.6 L431.9 403.5 L440.2 400.6 L446.9 397.2 L451.1 393.3 L452.6 389.2 M392.6 412.6 L394.1 413.2 L398.3 413.5 L405.0 413.5 L413.3 412.8 L422.6 411.4 L431.9 409.3 L440.2 406.4 L446.9 403.0 L451.1 399.1 L452.6 395.0 M392.6 418.4 L394.1 419.0 L398.3 419.3 L405.0 419.3 L413.3 418.6 L422.6 417.2 L431.9 415.1 L440.2 412.2 L446.9 408.8 L451.1 404.9 L452.6 400.8 M392.6 424.2 L394.1 424.8 L398.3 425.1 L405.0 425.1 L413.3 424.4 L422.6 423.0 L431.9 420.9 L440.2 418.0 L446.9 414.6 L451.1 410.7 L452.6 406.6 M392.6 430.0 L394.1 430.6 L398.3 430.9 L405.0 430.9 L413.3 430.2 L422.6 428.8 L431.9 426.7 L440.2 423.8 L446.9 420.4 L451.1 416.5 L452.6 412.4 M392.6 435.8 L394.1 436.4 L398.3 436.7 L405.0 436.7 L413.3 436.0 L422.6 434.6 L431.9 432.5 L440.2 429.6 L446.9 426.2 L451.1 422.3 L452.6 418.2 M392.6 441.6 L394.1 442.2 L398.3 442.5 L405.0 442.5 L413.3 441.8 L422.6 440.4 L431.9 438.3 L440.2 435.4 L446.9 432.0 L451.1 428.1 L452.6 424.0 M392.6 447.4 L394.1 448.0 L398.3 448.3 L405.0 448.3 L413.3 447.6 L422.6 446.2 L431.9 444.1 L440.2 441.2 L446.9 437.8 L451.1 433.9 L452.6 429.8 M392.6 453.2 L394.1 453.8 L398.3 454.1 L405.0 454.1 L413.3 453.4 L422.6 452.0 L431.9 449.9 L440.2 447.0 L446.9 443.6 L451.1 439.7 L452.6 435.6 M392.6 459.0 L394.1 459.6 L398.3 459.9 L405.0 459.9 L413.3 459.2 L422.6 457.8 L431.9 455.7 L440.2 452.8 L446.9 449.4 L451.1 445.5 L452.6 441.4" fill="none" stroke="url(#gGrB)" stroke-width="1.5"/>
<path d="M392.6 348.8 L394.1 349.4 L398.3 349.7 L405.0 349.7 L413.3 349.0 L422.6 347.6 L431.9 345.5 L440.2 342.6 L446.9 339.2 L451.1 335.3 L452.6 331.2 M392.6 354.6 L394.1 355.2 L398.3 355.5 L405.0 355.5 L413.3 354.8 L422.6 353.4 L431.9 351.3 L440.2 348.4 L446.9 345.0 L451.1 341.1 L452.6 337.0 M392.6 360.4 L394.1 361.0 L398.3 361.3 L405.0 361.3 L413.3 360.6 L422.6 359.2 L431.9 357.1 L440.2 354.2 L446.9 350.8 L451.1 346.9 L452.6 342.8 M392.6 366.2 L394.1 366.8 L398.3 367.1 L405.0 367.1 L413.3 366.4 L422.6 365.0 L431.9 362.9 L440.2 360.0 L446.9 356.6 L451.1 352.7 L452.6 348.6 M392.6 372.0 L394.1 372.6 L398.3 372.9 L405.0 372.9 L413.3 372.2 L422.6 370.8 L431.9 368.7 L440.2 365.8 L446.9 362.4 L451.1 358.5 L452.6 354.4 M392.6 377.8 L394.1 378.4 L398.3 378.7 L405.0 378.7 L413.3 378.0 L422.6 376.6 L431.9 374.5 L440.2 371.6 L446.9 368.2 L451.1 364.3 L452.6 360.2 M392.6 383.6 L394.1 384.2 L398.3 384.5 L405.0 384.5 L413.3 383.8 L422.6 382.4 L431.9 380.3 L440.2 377.4 L446.9 374.0 L451.1 370.1 L452.6 366.0 M392.6 389.4 L394.1 390.0 L398.3 390.3 L405.0 390.3 L413.3 389.6 L422.6 388.2 L431.9 386.1 L440.2 383.2 L446.9 379.8 L451.1 375.9 L452.6 371.8 M392.6 395.2 L394.1 395.8 L398.3 396.1 L405.0 396.1 L413.3 395.4 L422.6 394.0 L431.9 391.9 L440.2 389.0 L446.9 385.6 L451.1 381.7 L452.6 377.6 M392.6 401.0 L394.1 401.6 L398.3 401.9 L405.0 401.9 L413.3 401.2 L422.6 399.8 L431.9 397.7 L440.2 394.8 L446.9 391.4 L451.1 387.5 L452.6 383.4 M392.6 406.8 L394.1 407.4 L398.3 407.7 L405.0 407.7 L413.3 407.0 L422.6 405.6 L431.9 403.5 L440.2 400.6 L446.9 397.2 L451.1 393.3 L452.6 389.2 M392.6 412.6 L394.1 413.2 L398.3 413.5 L405.0 413.5 L413.3 412.8 L422.6 411.4 L431.9 409.3 L440.2 406.4 L446.9 403.0 L451.1 399.1 L452.6 395.0 M392.6 418.4 L394.1 419.0 L398.3 419.3 L405.0 419.3 L413.3 418.6 L422.6 417.2 L431.9 415.1 L440.2 412.2 L446.9 408.8 L451.1 404.9 L452.6 400.8 M392.6 424.2 L394.1 424.8 L398.3 425.1 L405.0 425.1 L413.3 424.4 L422.6 423.0 L431.9 420.9 L440.2 418.0 L446.9 414.6 L451.1 410.7 L452.6 406.6 M392.6 430.0 L394.1 430.6 L398.3 430.9 L405.0 430.9 L413.3 430.2 L422.6 428.8 L431.9 426.7 L440.2 423.8 L446.9 420.4 L451.1 416.5 L452.6 412.4 M392.6 435.8 L394.1 436.4 L398.3 436.7 L405.0 436.7 L413.3 436.0 L422.6 434.6 L431.9 432.5 L440.2 429.6 L446.9 426.2 L451.1 422.3 L452.6 418.2 M392.6 441.6 L394.1 442.2 L398.3 442.5 L405.0 442.5 L413.3 441.8 L422.6 440.4 L431.9 438.3 L440.2 435.4 L446.9 432.0 L451.1 428.1 L452.6 424.0 M392.6 447.4 L394.1 448.0 L398.3 448.3 L405.0 448.3 L413.3 447.6 L422.6 446.2 L431.9 444.1 L440.2 441.2 L446.9 437.8 L451.1 433.9 L452.6 429.8 M392.6 453.2 L394.1 453.8 L398.3 454.1 L405.0 454.1 L413.3 453.4 L422.6 452.0 L431.9 449.9 L440.2 447.0 L446.9 443.6 L451.1 439.7 L452.6 435.6 M392.6 459.0 L394.1 459.6 L398.3 459.9 L405.0 459.9 L413.3 459.2 L422.6 457.8 L431.9 455.7 L440.2 452.8 L446.9 449.4 L451.1 445.5 L452.6 441.4" fill="none" stroke="url(#gGrA)" stroke-width="0.6" opacity="0.5" transform="translate(0 1.4)"/>
</g>
<path d="M393.2 362.4 A30 7.6 0 0 0 452.6 362.4" fill="none" stroke="#e6e6e6" stroke-width="1.2" opacity="0.6"/>
<path d="M392.8 389 L392.8 428.6 L395.9 433.0 M451.7 429 L452.3 402" fill="none" stroke="#555b61" stroke-width="0.7"/>
<path d="M426.4 79.6 L423.4 80.0 L420.5 80.3 L417.5 80.7 L414.6 81.2 L411.8 81.7 L409.0 82.2 L406.3 82.8 L403.6 83.4 L401.0 84.1 L398.5 84.8 L396.2 85.5 L393.9 86.2 L391.7 87.0 L389.7 87.8 L387.8 88.7 L386.1 89.6 L384.5 90.5 L383.1 91.4 L381.8 92.3 L380.7 93.3 L379.8 94.2 L379.0 95.2 L378.5 96.2 L378.1 97.2 L377.8 98.2 L377.8 99.2" fill="none" stroke="url(#bE)" stroke-width="16.5" stroke-linecap="butt" stroke-linejoin="round" />
<path d="M426.4 79.6 L423.4 80.0 L420.5 80.3 L417.5 80.7 L414.6 81.2 L411.8 81.7 L409.0 82.2 L406.3 82.8 L403.6 83.4 L401.0 84.1 L398.5 84.8 L396.2 85.5 L393.9 86.2 L391.7 87.0 L389.7 87.8 L387.8 88.7 L386.1 89.6 L384.5 90.5 L383.1 91.4 L381.8 92.3 L380.7 93.3 L379.8 94.2 L379.0 95.2 L378.5 96.2 L378.1 97.2 L377.8 98.2 L377.8 99.2" fill="none" stroke="url(#bB)" stroke-width="15.3" stroke-linecap="butt" stroke-linejoin="round" />
<path d="M426.4 79.6 L423.4 80.0 L420.5 80.3 L417.5 80.7 L414.6 81.2 L411.8 81.7 L409.0 82.2 L406.3 82.8 L403.6 83.4 L401.0 84.1 L398.5 84.8 L396.2 85.5 L393.9 86.2 L391.7 87.0 L389.7 87.8 L387.8 88.7 L386.1 89.6 L384.5 90.5 L383.1 91.4 L381.8 92.3 L380.7 93.3 L379.8 94.2 L379.0 95.2 L378.5 96.2 L378.1 97.2 L377.8 98.2 L377.8 99.2" fill="none" stroke="url(#bM)" stroke-width="12.9" stroke-linecap="butt" stroke-linejoin="round" transform="translate(0 -1.2)" filter="url(#fB1)"/>
<path d="M426.4 79.6 L423.4 80.0 L420.5 80.3 L417.5 80.7 L414.6 81.2 L411.8 81.7 L409.0 82.2 L406.3 82.8 L403.6 83.4 L401.0 84.1 L398.5 84.8 L396.2 85.5 L393.9 86.2 L391.7 87.0 L389.7 87.8 L387.8 88.7 L386.1 89.6 L384.5 90.5 L383.1 91.4 L381.8 92.3 L380.7 93.3 L379.8 94.2 L379.0 95.2 L378.5 96.2 L378.1 97.2 L377.8 98.2 L377.8 99.2" fill="none" stroke="url(#bH)" stroke-width="6.9" stroke-linecap="butt" stroke-linejoin="round" transform="translate(-0.3 -2.2)" filter="url(#fB1)"/>
<path d="M473.0 115.5 L473.0 115.1 L472.8 114.8 L472.4 114.4 L471.9 114.1 L471.1 113.8 L470.3 113.4 L469.2 113.1 L468.0 112.8 L466.7 112.6 L465.2 112.3 L463.6 112.1 L461.8 111.9 L459.9 111.7 L457.9 111.5 L455.7 111.4 L453.5 111.3 L451.1 111.2 L448.6 111.2 L446.1 111.2 L443.5 111.2 L440.8 111.3 L438.1 111.4 L435.3 111.6 L432.5 111.8 L429.7 112.0 L426.8 112.3 L424.0 112.6 L421.1 112.9 L418.3 113.3 L415.5 113.8 L412.7 114.2 L410.0 114.7 L407.3 115.3 L404.7 115.9 L402.2 116.5 L399.7 117.2 L397.3 117.9 L395.1 118.6 L392.9 119.3 L390.9 120.1 L389.0 120.9 L387.2 121.8 L385.6 122.7 L384.1 123.5 L382.8 124.4 L381.6 125.4 L380.5 126.3 L379.7 127.3 L378.9 128.2 L378.4 129.2 L378.0 130.2 L377.8 131.2 L377.8 132.2" fill="none" stroke="url(#bE)" stroke-width="16.5" stroke-linecap="butt" stroke-linejoin="round" />
<path d="M473.0 115.5 L473.0 115.1 L472.8 114.8 L472.4 114.4 L471.9 114.1 L471.1 113.8 L470.3 113.4 L469.2 113.1 L468.0 112.8 L466.7 112.6 L465.2 112.3 L463.6 112.1 L461.8 111.9 L459.9 111.7 L457.9 111.5 L455.7 111.4 L453.5 111.3 L451.1 111.2 L448.6 111.2 L446.1 111.2 L443.5 111.2 L440.8 111.3 L438.1 111.4 L435.3 111.6 L432.5 111.8 L429.7 112.0 L426.8 112.3 L424.0 112.6 L421.1 112.9 L418.3 113.3 L415.5 113.8 L412.7 114.2 L410.0 114.7 L407.3 115.3 L404.7 115.9 L402.2 116.5 L399.7 117.2 L397.3 117.9 L395.1 118.6 L392.9 119.3 L390.9 120.1 L389.0 120.9 L387.2 121.8 L385.6 122.7 L384.1 123.5 L382.8 124.4 L381.6 125.4 L380.5 126.3 L379.7 127.3 L378.9 128.2 L378.4 129.2 L378.0 130.2 L377.8 131.2 L377.8 132.2" fill="none" stroke="url(#bB)" stroke-width="15.3" stroke-linecap="butt" stroke-linejoin="round" />
<path d="M473.0 115.5 L473.0 115.1 L472.8 114.8 L472.4 114.4 L471.9 114.1 L471.1 113.8 L470.3 113.4 L469.2 113.1 L468.0 112.8 L466.7 112.6 L465.2 112.3 L463.6 112.1 L461.8 111.9 L459.9 111.7 L457.9 111.5 L455.7 111.4 L453.5 111.3 L451.1 111.2 L448.6 111.2 L446.1 111.2 L443.5 111.2 L440.8 111.3 L438.1 111.4 L435.3 111.6 L432.5 111.8 L429.7 112.0 L426.8 112.3 L424.0 112.6 L421.1 112.9 L418.3 113.3 L415.5 113.8 L412.7 114.2 L410.0 114.7 L407.3 115.3 L404.7 115.9 L402.2 116.5 L399.7 117.2 L397.3 117.9 L395.1 118.6 L392.9 119.3 L390.9 120.1 L389.0 120.9 L387.2 121.8 L385.6 122.7 L384.1 123.5 L382.8 124.4 L381.6 125.4 L380.5 126.3 L379.7 127.3 L378.9 128.2 L378.4 129.2 L378.0 130.2 L377.8 131.2 L377.8 132.2" fill="none" stroke="url(#bM)" stroke-width="12.9" stroke-linecap="butt" stroke-linejoin="round" transform="translate(0 -1.2)" filter="url(#fB1)"/>
<path d="M473.0 115.5 L473.0 115.1 L472.8 114.8 L472.4 114.4 L471.9 114.1 L471.1 113.8 L470.3 113.4 L469.2 113.1 L468.0 112.8 L466.7 112.6 L465.2 112.3 L463.6 112.1 L461.8 111.9 L459.9 111.7 L457.9 111.5 L455.7 111.4 L453.5 111.3 L451.1 111.2 L448.6 111.2 L446.1 111.2 L443.5 111.2 L440.8 111.3 L438.1 111.4 L435.3 111.6 L432.5 111.8 L429.7 112.0 L426.8 112.3 L424.0 112.6 L421.1 112.9 L418.3 113.3 L415.5 113.8 L412.7 114.2 L410.0 114.7 L407.3 115.3 L404.7 115.9 L402.2 116.5 L399.7 117.2 L397.3 117.9 L395.1 118.6 L392.9 119.3 L390.9 120.1 L389.0 120.9 L387.2 121.8 L385.6 122.7 L384.1 123.5 L382.8 124.4 L381.6 125.4 L380.5 126.3 L379.7 127.3 L378.9 128.2 L378.4 129.2 L378.0 130.2 L377.8 131.2 L377.8 132.2" fill="none" stroke="url(#bH)" stroke-width="6.9" stroke-linecap="butt" stroke-linejoin="round" transform="translate(-0.3 -2.2)" filter="url(#fB1)"/>
<path d="M473.0 148.4 L473.0 148.1 L472.8 147.7 L472.4 147.3 L471.9 147.0 L471.1 146.6 L470.3 146.3 L469.2 146.0 L468.0 145.7 L466.7 145.4 L465.2 145.1 L463.6 144.9 L461.8 144.6 L459.9 144.5 L457.9 144.3 L455.7 144.1 L453.5 144.0 L451.1 144.0 L448.6 143.9 L446.1 143.9 L443.5 144.0 L440.8 144.0 L438.1 144.1 L435.3 144.3 L432.5 144.5 L429.7 144.7 L426.8 145.0 L424.0 145.3 L421.1 145.6 L418.3 146.0 L415.5 146.5 L412.7 146.9 L410.0 147.5 L407.3 148.0 L404.7 148.6 L402.2 149.2 L399.7 149.9 L397.3 150.6 L395.1 151.3 L392.9 152.1 L390.9 152.9 L389.0 153.7 L387.2 154.6 L385.6 155.5 L384.1 156.4 L382.8 157.3 L381.6 158.2 L380.5 159.2 L379.7 160.2 L378.9 161.1 L378.4 162.1 L378.0 163.1 L377.8 164.1 L377.8 165.1" fill="none" stroke="url(#bE)" stroke-width="16.5" stroke-linecap="butt" stroke-linejoin="round" />
<path d="M473.0 148.4 L473.0 148.1 L472.8 147.7 L472.4 147.3 L471.9 147.0 L471.1 146.6 L470.3 146.3 L469.2 146.0 L468.0 145.7 L466.7 145.4 L465.2 145.1 L463.6 144.9 L461.8 144.6 L459.9 144.5 L457.9 144.3 L455.7 144.1 L453.5 144.0 L451.1 144.0 L448.6 143.9 L446.1 143.9 L443.5 144.0 L440.8 144.0 L438.1 144.1 L435.3 144.3 L432.5 144.5 L429.7 144.7 L426.8 145.0 L424.0 145.3 L421.1 145.6 L418.3 146.0 L415.5 146.5 L412.7 146.9 L410.0 147.5 L407.3 148.0 L404.7 148.6 L402.2 149.2 L399.7 149.9 L397.3 150.6 L395.1 151.3 L392.9 152.1 L390.9 152.9 L389.0 153.7 L387.2 154.6 L385.6 155.5 L384.1 156.4 L382.8 157.3 L381.6 158.2 L380.5 159.2 L379.7 160.2 L378.9 161.1 L378.4 162.1 L378.0 163.1 L377.8 164.1 L377.8 165.1" fill="none" stroke="url(#bB)" stroke-width="15.3" stroke-linecap="butt" stroke-linejoin="round" />
<path d="M473.0 148.4 L473.0 148.1 L472.8 147.7 L472.4 147.3 L471.9 147.0 L471.1 146.6 L470.3 146.3 L469.2 146.0 L468.0 145.7 L466.7 145.4 L465.2 145.1 L463.6 144.9 L461.8 144.6 L459.9 144.5 L457.9 144.3 L455.7 144.1 L453.5 144.0 L451.1 144.0 L448.6 143.9 L446.1 143.9 L443.5 144.0 L440.8 144.0 L438.1 144.1 L435.3 144.3 L432.5 144.5 L429.7 144.7 L426.8 145.0 L424.0 145.3 L421.1 145.6 L418.3 146.0 L415.5 146.5 L412.7 146.9 L410.0 147.5 L407.3 148.0 L404.7 148.6 L402.2 149.2 L399.7 149.9 L397.3 150.6 L395.1 151.3 L392.9 152.1 L390.9 152.9 L389.0 153.7 L387.2 154.6 L385.6 155.5 L384.1 156.4 L382.8 157.3 L381.6 158.2 L380.5 159.2 L379.7 160.2 L378.9 161.1 L378.4 162.1 L378.0 163.1 L377.8 164.1 L377.8 165.1" fill="none" stroke="url(#bM)" stroke-width="12.9" stroke-linecap="butt" stroke-linejoin="round" transform="translate(0 -1.2)" filter="url(#fB1)"/>
<path d="M473.0 148.4 L473.0 148.1 L472.8 147.7 L472.4 147.3 L471.9 147.0 L471.1 146.6 L470.3 146.3 L469.2 146.0 L468.0 145.7 L466.7 145.4 L465.2 145.1 L463.6 144.9 L461.8 144.6 L459.9 144.5 L457.9 144.3 L455.7 144.1 L453.5 144.0 L451.1 144.0 L448.6 143.9 L446.1 143.9 L443.5 144.0 L440.8 144.0 L438.1 144.1 L435.3 144.3 L432.5 144.5 L429.7 144.7 L426.8 145.0 L424.0 145.3 L421.1 145.6 L418.3 146.0 L415.5 146.5 L412.7 146.9 L410.0 147.5 L407.3 148.0 L404.7 148.6 L402.2 149.2 L399.7 149.9 L397.3 150.6 L395.1 151.3 L392.9 152.1 L390.9 152.9 L389.0 153.7 L387.2 154.6 L385.6 155.5 L384.1 156.4 L382.8 157.3 L381.6 158.2 L380.5 159.2 L379.7 160.2 L378.9 161.1 L378.4 162.1 L378.0 163.1 L377.8 164.1 L377.8 165.1" fill="none" stroke="url(#bH)" stroke-width="6.9" stroke-linecap="butt" stroke-linejoin="round" transform="translate(-0.3 -2.2)" filter="url(#fB1)"/>
<path d="M473.0 181.4 L473.0 181.0 L472.8 180.6 L472.4 180.3 L471.9 179.9 L471.1 179.5 L470.3 179.2 L469.2 178.8 L468.0 178.5 L466.7 178.2 L465.2 177.9 L463.6 177.7 L461.8 177.4 L459.9 177.2 L457.9 177.0 L455.7 176.9 L453.5 176.8 L451.1 176.7 L448.6 176.7 L446.1 176.6 L443.5 176.7 L440.8 176.7 L438.1 176.8 L435.3 177.0 L432.5 177.2 L429.7 177.4 L426.8 177.7 L424.0 178.0 L421.1 178.3 L418.3 178.7 L415.5 179.2 L412.7 179.7 L410.0 180.2 L407.3 180.7 L404.7 181.3 L402.2 182.0 L399.7 182.6 L397.3 183.4 L395.1 184.1 L392.9 184.9 L390.9 185.7 L389.0 186.5 L387.2 187.4 L385.6 188.3 L384.1 189.2 L382.8 190.1 L381.6 191.1 L380.5 192.0 L379.7 193.0 L378.9 194.0 L378.4 195.0 L378.0 196.1 L377.8 197.1 L377.8 198.1" fill="none" stroke="url(#bE)" stroke-width="16.5" stroke-linecap="butt" stroke-linejoin="round" />
<path d="M473.0 181.4 L473.0 181.0 L472.8 180.6 L472.4 180.3 L471.9 179.9 L471.1 179.5 L470.3 179.2 L469.2 178.8 L468.0 178.5 L466.7 178.2 L465.2 177.9 L463.6 177.7 L461.8 177.4 L459.9 177.2 L457.9 177.0 L455.7 176.9 L453.5 176.8 L451.1 176.7 L448.6 176.7 L446.1 176.6 L443.5 176.7 L440.8 176.7 L438.1 176.8 L435.3 177.0 L432.5 177.2 L429.7 177.4 L426.8 177.7 L424.0 178.0 L421.1 178.3 L418.3 178.7 L415.5 179.2 L412.7 179.7 L410.0 180.2 L407.3 180.7 L404.7 181.3 L402.2 182.0 L399.7 182.6 L397.3 183.4 L395.1 184.1 L392.9 184.9 L390.9 185.7 L389.0 186.5 L387.2 187.4 L385.6 188.3 L384.1 189.2 L382.8 190.1 L381.6 191.1 L380.5 192.0 L379.7 193.0 L378.9 194.0 L378.4 195.0 L378.0 196.1 L377.8 197.1 L377.8 198.1" fill="none" stroke="url(#bB)" stroke-width="15.3" stroke-linecap="butt" stroke-linejoin="round" />
<path d="M473.0 181.4 L473.0 181.0 L472.8 180.6 L472.4 180.3 L471.9 179.9 L471.1 179.5 L470.3 179.2 L469.2 178.8 L468.0 178.5 L466.7 178.2 L465.2 177.9 L463.6 177.7 L461.8 177.4 L459.9 177.2 L457.9 177.0 L455.7 176.9 L453.5 176.8 L451.1 176.7 L448.6 176.7 L446.1 176.6 L443.5 176.7 L440.8 176.7 L438.1 176.8 L435.3 177.0 L432.5 177.2 L429.7 177.4 L426.8 177.7 L424.0 178.0 L421.1 178.3 L418.3 178.7 L415.5 179.2 L412.7 179.7 L410.0 180.2 L407.3 180.7 L404.7 181.3 L402.2 182.0 L399.7 182.6 L397.3 183.4 L395.1 184.1 L392.9 184.9 L390.9 185.7 L389.0 186.5 L387.2 187.4 L385.6 188.3 L384.1 189.2 L382.8 190.1 L381.6 191.1 L380.5 192.0 L379.7 193.0 L378.9 194.0 L378.4 195.0 L378.0 196.1 L377.8 197.1 L377.8 198.1" fill="none" stroke="url(#bM)" stroke-width="12.9" stroke-linecap="butt" stroke-linejoin="round" transform="translate(0 -1.2)" filter="url(#fB1)"/>
<path d="M473.0 181.4 L473.0 181.0 L472.8 180.6 L472.4 180.3 L471.9 179.9 L471.1 179.5 L470.3 179.2 L469.2 178.8 L468.0 178.5 L466.7 178.2 L465.2 177.9 L463.6 177.7 L461.8 177.4 L459.9 177.2 L457.9 177.0 L455.7 176.9 L453.5 176.8 L451.1 176.7 L448.6 176.7 L446.1 176.6 L443.5 176.7 L440.8 176.7 L438.1 176.8 L435.3 177.0 L432.5 177.2 L429.7 177.4 L426.8 177.7 L424.0 178.0 L421.1 178.3 L418.3 178.7 L415.5 179.2 L412.7 179.7 L410.0 180.2 L407.3 180.7 L404.7 181.3 L402.2 182.0 L399.7 182.6 L397.3 183.4 L395.1 184.1 L392.9 184.9 L390.9 185.7 L389.0 186.5 L387.2 187.4 L385.6 188.3 L384.1 189.2 L382.8 190.1 L381.6 191.1 L380.5 192.0 L379.7 193.0 L378.9 194.0 L378.4 195.0 L378.0 196.1 L377.8 197.1 L377.8 198.1" fill="none" stroke="url(#bH)" stroke-width="6.9" stroke-linecap="butt" stroke-linejoin="round" transform="translate(-0.3 -2.2)" filter="url(#fB1)"/>
<path d="M473.0 214.4 L473.0 214.0 L472.8 213.6 L472.4 213.2 L471.9 212.8 L471.1 212.4 L470.3 212.0 L469.2 211.7 L468.0 211.4 L466.7 211.0 L465.2 210.7 L463.6 210.5 L461.8 210.2 L459.9 210.0 L457.9 209.8 L455.7 209.7 L453.5 209.5 L451.1 209.4 L448.6 209.4 L446.1 209.4 L443.5 209.4 L440.8 209.4 L438.1 209.5 L435.3 209.7 L432.5 209.9 L429.7 210.1 L426.8 210.4 L424.0 210.7 L421.1 211.0 L418.3 211.4 L415.5 211.9 L412.7 212.4 L410.0 212.9 L407.3 213.4 L404.7 214.1 L402.2 214.7 L399.7 215.4 L397.3 216.1 L395.1 216.9 L392.9 217.6 L390.9 218.5 L389.0 219.3 L387.2 220.2 L385.6 221.1 L384.1 222.0 L382.8 223.0 L381.6 223.9 L380.5 224.9 L379.7 225.9 L378.9 226.9 L378.4 227.9 L378.0 229.0 L377.8 230.0 L377.8 231.0" fill="none" stroke="url(#bE)" stroke-width="16.5" stroke-linecap="butt" stroke-linejoin="round" />
<path d="M473.0 214.4 L473.0 214.0 L472.8 213.6 L472.4 213.2 L471.9 212.8 L471.1 212.4 L470.3 212.0 L469.2 211.7 L468.0 211.4 L466.7 211.0 L465.2 210.7 L463.6 210.5 L461.8 210.2 L459.9 210.0 L457.9 209.8 L455.7 209.7 L453.5 209.5 L451.1 209.4 L448.6 209.4 L446.1 209.4 L443.5 209.4 L440.8 209.4 L438.1 209.5 L435.3 209.7 L432.5 209.9 L429.7 210.1 L426.8 210.4 L424.0 210.7 L421.1 211.0 L418.3 211.4 L415.5 211.9 L412.7 212.4 L410.0 212.9 L407.3 213.4 L404.7 214.1 L402.2 214.7 L399.7 215.4 L397.3 216.1 L395.1 216.9 L392.9 217.6 L390.9 218.5 L389.0 219.3 L387.2 220.2 L385.6 221.1 L384.1 222.0 L382.8 223.0 L381.6 223.9 L380.5 224.9 L379.7 225.9 L378.9 226.9 L378.4 227.9 L378.0 229.0 L377.8 230.0 L377.8 231.0" fill="none" stroke="url(#bB)" stroke-width="15.3" stroke-linecap="butt" stroke-linejoin="round" />
<path d="M473.0 214.4 L473.0 214.0 L472.8 213.6 L472.4 213.2 L471.9 212.8 L471.1 212.4 L470.3 212.0 L469.2 211.7 L468.0 211.4 L466.7 211.0 L465.2 210.7 L463.6 210.5 L461.8 210.2 L459.9 210.0 L457.9 209.8 L455.7 209.7 L453.5 209.5 L451.1 209.4 L448.6 209.4 L446.1 209.4 L443.5 209.4 L440.8 209.4 L438.1 209.5 L435.3 209.7 L432.5 209.9 L429.7 210.1 L426.8 210.4 L424.0 210.7 L421.1 211.0 L418.3 211.4 L415.5 211.9 L412.7 212.4 L410.0 212.9 L407.3 213.4 L404.7 214.1 L402.2 214.7 L399.7 215.4 L397.3 216.1 L395.1 216.9 L392.9 217.6 L390.9 218.5 L389.0 219.3 L387.2 220.2 L385.6 221.1 L384.1 222.0 L382.8 223.0 L381.6 223.9 L380.5 224.9 L379.7 225.9 L378.9 226.9 L378.4 227.9 L378.0 229.0 L377.8 230.0 L377.8 231.0" fill="none" stroke="url(#bM)" stroke-width="12.9" stroke-linecap="butt" stroke-linejoin="round" transform="translate(0 -1.2)" filter="url(#fB1)"/>
<path d="M473.0 214.4 L473.0 214.0 L472.8 213.6 L472.4 213.2 L471.9 212.8 L471.1 212.4 L470.3 212.0 L469.2 211.7 L468.0 211.4 L466.7 211.0 L465.2 210.7 L463.6 210.5 L461.8 210.2 L459.9 210.0 L457.9 209.8 L455.7 209.7 L453.5 209.5 L451.1 209.4 L448.6 209.4 L446.1 209.4 L443.5 209.4 L440.8 209.4 L438.1 209.5 L435.3 209.7 L432.5 209.9 L429.7 210.1 L426.8 210.4 L424.0 210.7 L421.1 211.0 L418.3 211.4 L415.5 211.9 L412.7 212.4 L410.0 212.9 L407.3 213.4 L404.7 214.1 L402.2 214.7 L399.7 215.4 L397.3 216.1 L395.1 216.9 L392.9 217.6 L390.9 218.5 L389.0 219.3 L387.2 220.2 L385.6 221.1 L384.1 222.0 L382.8 223.0 L381.6 223.9 L380.5 224.9 L379.7 225.9 L378.9 226.9 L378.4 227.9 L378.0 229.0 L377.8 230.0 L377.8 231.0" fill="none" stroke="url(#bH)" stroke-width="6.9" stroke-linecap="butt" stroke-linejoin="round" transform="translate(-0.3 -2.2)" filter="url(#fB1)"/>
<g clip-path="url(#cLead1)"><path d="M425.4 81.0 L600.0 49.2" fill="none" stroke="#a58066" stroke-width="17.0" stroke-linecap="butt" stroke-linejoin="round" />
<path d="M425.4 81.0 L600.0 49.2" fill="none" stroke="#c4997c" stroke-width="15.8" stroke-linecap="butt" stroke-linejoin="round" />
<path d="M425.4 81.0 L600.0 49.2" fill="none" stroke="#d3ab8f" stroke-width="13.3" stroke-linecap="butt" stroke-linejoin="round" transform="translate(0 -1.2)" filter="url(#fB1)"/>
<path d="M425.4 81.0 L600.0 49.2" fill="none" stroke="#dbb69c" stroke-width="7.1" stroke-linecap="butt" stroke-linejoin="round" transform="translate(-0.3 -2.0)" filter="url(#fB1)"/></g>
<path d="M395.9 58.4 L455.6 58.4 L452.0 355.5 L452.9 360.6 A30 7.6 0 0 1 392.9 360.6 L394.1 355.5 Z" fill="url(#gCyl)"/>
<path d="M395.9 58.4 L455.6 58.4 L452.0 355.5 L452.9 360.6 A30 7.6 0 0 1 392.9 360.6 L394.1 355.5 Z" fill="url(#gCylV)"/>
<path d="M392.9 360.6 A30 7.6 0 0 0 452.9 360.6" fill="none" stroke="#3c3c3c" stroke-width="1.2"/>
<path d="M394.5 365.0 A30 7.6 0 0 0 425 369.6" fill="none" stroke="#f0f0f0" stroke-width="1.1" opacity="0.7"/>
<ellipse cx="425.65" cy="58.4" rx="29.75" ry="5.6" fill="url(#gCap)"/>
<path d="M395.9 58.4 A29.75 5.6 0 0 0 455.4 58.4" fill="none" stroke="#4e4e4e" stroke-width="0.9"/>
<path d="M396.6 60.4 A29.2 5.6 0 0 0 454.7 60.4" fill="none" stroke="#c4c4c4" stroke-width="1.3" opacity="0.5"/>
<g clip-path="url(#cCyl)"><g filter="url(#fB2)" opacity="0.3"><path d="M377.8 98.6 L377.8 99.6 L378.0 100.5 L378.4 101.5 L378.9 102.5 L379.7 103.4 L380.5 104.4 L381.6 105.3 L382.8 106.2 L384.1 107.1 L385.6 108.0 L387.2 108.8 L389.0 109.7 L390.9 110.5 L392.9 111.3 L395.1 112.0 L397.3 112.7 L399.7 113.4 L402.2 114.1 L404.7 114.7 L407.3 115.3 L410.0 115.9 L412.7 116.4 L415.5 116.8 L418.3 117.3 L421.1 117.7 L424.0 118.0 L426.8 118.4 L429.7 118.6 L432.5 118.9 L435.3 119.1 L438.1 119.2 L440.8 119.3 L443.5 119.4 L446.1 119.5 L448.6 119.5 L451.1 119.5 L453.5 119.4 L455.7 119.3 L457.9 119.2 L459.9 119.0 L461.8 118.9 L463.6 118.6 L465.2 118.4 L466.7 118.2 L468.0 117.9 L469.2 117.6 L470.3 117.3 L471.1 117.0 L471.9 116.6 L472.4 116.3 L472.8 116.0 L473.0 115.6 L473.0 115.3" fill="none" stroke="#000" stroke-width="14.5" stroke-linecap="butt" stroke-linejoin="round" transform="translate(0 4.5)"/><path d="M377.8 131.5 L377.8 132.5 L378.0 133.5 L378.4 134.5 L378.9 135.5 L379.7 136.4 L380.5 137.4 L381.6 138.3 L382.8 139.3 L384.1 140.2 L385.6 141.1 L387.2 141.9 L389.0 142.8 L390.9 143.6 L392.9 144.4 L395.1 145.2 L397.3 145.9 L399.7 146.6 L402.2 147.3 L404.7 147.9 L407.3 148.5 L410.0 149.0 L412.7 149.6 L415.5 150.0 L418.3 150.5 L421.1 150.9 L424.0 151.2 L426.8 151.6 L429.7 151.8 L432.5 152.1 L435.3 152.3 L438.1 152.4 L440.8 152.5 L443.5 152.6 L446.1 152.7 L448.6 152.7 L451.1 152.6 L453.5 152.6 L455.7 152.5 L457.9 152.3 L459.9 152.2 L461.8 152.0 L463.6 151.7 L465.2 151.5 L466.7 151.2 L468.0 151.0 L469.2 150.7 L470.3 150.3 L471.1 150.0 L471.9 149.7 L472.4 149.3 L472.8 148.9 L473.0 148.6 L473.0 148.2" fill="none" stroke="#000" stroke-width="14.5" stroke-linecap="butt" stroke-linejoin="round" transform="translate(0 4.5)"/><path d="M377.8 164.5 L377.8 165.5 L378.0 166.5 L378.4 167.5 L378.9 168.5 L379.7 169.5 L380.5 170.4 L381.6 171.4 L382.8 172.3 L384.1 173.3 L385.6 174.2 L387.2 175.0 L389.0 175.9 L390.9 176.7 L392.9 177.5 L395.1 178.3 L397.3 179.1 L399.7 179.8 L402.2 180.4 L404.7 181.1 L407.3 181.7 L410.0 182.2 L412.7 182.8 L415.5 183.2 L418.3 183.7 L421.1 184.1 L424.0 184.4 L426.8 184.8 L429.7 185.0 L432.5 185.3 L435.3 185.5 L438.1 185.6 L440.8 185.7 L443.5 185.8 L446.1 185.8 L448.6 185.8 L451.1 185.8 L453.5 185.7 L455.7 185.6 L457.9 185.5 L459.9 185.3 L461.8 185.1 L463.6 184.8 L465.2 184.6 L466.7 184.3 L468.0 184.0 L469.2 183.7 L470.3 183.4 L471.1 183.0 L471.9 182.7 L472.4 182.3 L472.8 181.9 L473.0 181.5 L473.0 181.1" fill="none" stroke="#000" stroke-width="14.5" stroke-linecap="butt" stroke-linejoin="round" transform="translate(0 4.5)"/><path d="M377.8 197.4 L377.8 198.4 L378.0 199.4 L378.4 200.5 L378.9 201.5 L379.7 202.5 L380.5 203.5 L381.6 204.4 L382.8 205.4 L384.1 206.3 L385.6 207.3 L387.2 208.1 L389.0 209.0 L390.9 209.9 L392.9 210.7 L395.1 211.5 L397.3 212.2 L399.7 212.9 L402.2 213.6 L404.7 214.2 L407.3 214.9 L410.0 215.4 L412.7 215.9 L415.5 216.4 L418.3 216.9 L421.1 217.3 L424.0 217.6 L426.8 218.0 L429.7 218.2 L432.5 218.5 L435.3 218.7 L438.1 218.8 L440.8 218.9 L443.5 219.0 L446.1 219.0 L448.6 219.0 L451.1 218.9 L453.5 218.9 L455.7 218.7 L457.9 218.6 L459.9 218.4 L461.8 218.2 L463.6 217.9 L465.2 217.7 L466.7 217.4 L468.0 217.1 L469.2 216.7 L470.3 216.4 L471.1 216.0 L471.9 215.7 L472.4 215.3 L472.8 214.9 L473.0 214.5 L473.0 214.1" fill="none" stroke="#000" stroke-width="14.5" stroke-linecap="butt" stroke-linejoin="round" transform="translate(0 4.5)"/><path d="M377.9 229.8 L377.8 230.7 L377.9 231.6 L378.1 232.5 L378.4 233.5 L378.9 234.4 L379.5 235.3 L380.2 236.2 L381.1 237.1 L382.1 237.9 L383.2 238.8 L384.4 239.6 L385.8 240.4 L387.2 241.3 L388.8 242.0 L390.5 242.8 L392.3 243.5 L394.1 244.3 L396.1 245.0 L398.2 245.6 L400.3 246.3 L402.5 246.9 L404.7 247.4 L407.0 248.0 L409.4 248.5 L411.8 249.0 L414.3 249.4 L416.8 249.8 L419.3 250.2 L421.8 250.6 L424.4 250.9 L426.9 251.2 L429.4 251.4 L432.0 251.6 L434.5 251.8 L436.9 251.9 L439.4 252.0 L441.8 252.1 L444.2 252.2 L446.5 252.2 L448.7 252.2 L450.9 252.1 L453.0 252.0 L455.0 251.9 L457.0 251.8 L458.8 251.6 L460.6 251.4 L462.3 251.2 L463.8 251.0 L465.3 250.8 L466.6 250.5 L467.8 250.2" fill="none" stroke="#000" stroke-width="14.5" stroke-linecap="butt" stroke-linejoin="round" transform="translate(0 4.5)"/></g></g>
<path d="M377.8 98.6 L377.8 99.6 L378.0 100.5 L378.4 101.5 L378.9 102.5 L379.7 103.4 L380.5 104.4 L381.6 105.3 L382.8 106.2 L384.1 107.1 L385.6 108.0 L387.2 108.8 L389.0 109.7 L390.9 110.5 L392.9 111.3 L395.1 112.0 L397.3 112.7 L399.7 113.4 L402.2 114.1 L404.7 114.7 L407.3 115.3 L410.0 115.9 L412.7 116.4 L415.5 116.8 L418.3 117.3 L421.1 117.7 L424.0 118.0 L426.8 118.4 L429.7 118.6 L432.5 118.9 L435.3 119.1 L438.1 119.2 L440.8 119.3 L443.5 119.4 L446.1 119.5 L448.6 119.5 L451.1 119.5 L453.5 119.4 L455.7 119.3 L457.9 119.2 L459.9 119.0 L461.8 118.9 L463.6 118.6 L465.2 118.4 L466.7 118.2 L468.0 117.9 L469.2 117.6 L470.3 117.3 L471.1 117.0 L471.9 116.6 L472.4 116.3 L472.8 116.0 L473.0 115.6 L473.0 115.3" fill="none" stroke="url(#tE)" stroke-width="16.5" stroke-linecap="butt" stroke-linejoin="round" />
<path d="M377.8 98.6 L377.8 99.6 L378.0 100.5 L378.4 101.5 L378.9 102.5 L379.7 103.4 L380.5 104.4 L381.6 105.3 L382.8 106.2 L384.1 107.1 L385.6 108.0 L387.2 108.8 L389.0 109.7 L390.9 110.5 L392.9 111.3 L395.1 112.0 L397.3 112.7 L399.7 113.4 L402.2 114.1 L404.7 114.7 L407.3 115.3 L410.0 115.9 L412.7 116.4 L415.5 116.8 L418.3 117.3 L421.1 117.7 L424.0 118.0 L426.8 118.4 L429.7 118.6 L432.5 118.9 L435.3 119.1 L438.1 119.2 L440.8 119.3 L443.5 119.4 L446.1 119.5 L448.6 119.5 L451.1 119.5 L453.5 119.4 L455.7 119.3 L457.9 119.2 L459.9 119.0 L461.8 118.9 L463.6 118.6 L465.2 118.4 L466.7 118.2 L468.0 117.9 L469.2 117.6 L470.3 117.3 L471.1 117.0 L471.9 116.6 L472.4 116.3 L472.8 116.0 L473.0 115.6 L473.0 115.3" fill="none" stroke="url(#tB)" stroke-width="15.3" stroke-linecap="butt" stroke-linejoin="round" />
<path d="M377.8 98.6 L377.8 99.6 L378.0 100.5 L378.4 101.5 L378.9 102.5 L379.7 103.4 L380.5 104.4 L381.6 105.3 L382.8 106.2 L384.1 107.1 L385.6 108.0 L387.2 108.8 L389.0 109.7 L390.9 110.5 L392.9 111.3 L395.1 112.0 L397.3 112.7 L399.7 113.4 L402.2 114.1 L404.7 114.7 L407.3 115.3 L410.0 115.9 L412.7 116.4 L415.5 116.8 L418.3 117.3 L421.1 117.7 L424.0 118.0 L426.8 118.4 L429.7 118.6 L432.5 118.9 L435.3 119.1 L438.1 119.2 L440.8 119.3 L443.5 119.4 L446.1 119.5 L448.6 119.5 L451.1 119.5 L453.5 119.4 L455.7 119.3 L457.9 119.2 L459.9 119.0 L461.8 118.9 L463.6 118.6 L465.2 118.4 L466.7 118.2 L468.0 117.9 L469.2 117.6 L470.3 117.3 L471.1 117.0 L471.9 116.6 L472.4 116.3 L472.8 116.0 L473.0 115.6 L473.0 115.3" fill="none" stroke="url(#tM)" stroke-width="12.9" stroke-linecap="butt" stroke-linejoin="round" transform="translate(0 -1.2)" filter="url(#fB1)"/>
<path d="M377.8 98.6 L377.8 99.6 L378.0 100.5 L378.4 101.5 L378.9 102.5 L379.7 103.4 L380.5 104.4 L381.6 105.3 L382.8 106.2 L384.1 107.1 L385.6 108.0 L387.2 108.8 L389.0 109.7 L390.9 110.5 L392.9 111.3 L395.1 112.0 L397.3 112.7 L399.7 113.4 L402.2 114.1 L404.7 114.7 L407.3 115.3 L410.0 115.9 L412.7 116.4 L415.5 116.8 L418.3 117.3 L421.1 117.7 L424.0 118.0 L426.8 118.4 L429.7 118.6 L432.5 118.9 L435.3 119.1 L438.1 119.2 L440.8 119.3 L443.5 119.4 L446.1 119.5 L448.6 119.5 L451.1 119.5 L453.5 119.4 L455.7 119.3 L457.9 119.2 L459.9 119.0 L461.8 118.9 L463.6 118.6 L465.2 118.4 L466.7 118.2 L468.0 117.9 L469.2 117.6 L470.3 117.3 L471.1 117.0 L471.9 116.6 L472.4 116.3 L472.8 116.0 L473.0 115.6 L473.0 115.3" fill="none" stroke="url(#tH)" stroke-width="6.9" stroke-linecap="butt" stroke-linejoin="round" transform="translate(-0.3 -2.2)" filter="url(#fB1)"/>
<path d="M377.8 131.5 L377.8 132.5 L378.0 133.5 L378.4 134.5 L378.9 135.5 L379.7 136.4 L380.5 137.4 L381.6 138.3 L382.8 139.3 L384.1 140.2 L385.6 141.1 L387.2 141.9 L389.0 142.8 L390.9 143.6 L392.9 144.4 L395.1 145.2 L397.3 145.9 L399.7 146.6 L402.2 147.3 L404.7 147.9 L407.3 148.5 L410.0 149.0 L412.7 149.6 L415.5 150.0 L418.3 150.5 L421.1 150.9 L424.0 151.2 L426.8 151.6 L429.7 151.8 L432.5 152.1 L435.3 152.3 L438.1 152.4 L440.8 152.5 L443.5 152.6 L446.1 152.7 L448.6 152.7 L451.1 152.6 L453.5 152.6 L455.7 152.5 L457.9 152.3 L459.9 152.2 L461.8 152.0 L463.6 151.7 L465.2 151.5 L466.7 151.2 L468.0 151.0 L469.2 150.7 L470.3 150.3 L471.1 150.0 L471.9 149.7 L472.4 149.3 L472.8 148.9 L473.0 148.6 L473.0 148.2" fill="none" stroke="url(#tE)" stroke-width="16.5" stroke-linecap="butt" stroke-linejoin="round" />
<path d="M377.8 131.5 L377.8 132.5 L378.0 133.5 L378.4 134.5 L378.9 135.5 L379.7 136.4 L380.5 137.4 L381.6 138.3 L382.8 139.3 L384.1 140.2 L385.6 141.1 L387.2 141.9 L389.0 142.8 L390.9 143.6 L392.9 144.4 L395.1 145.2 L397.3 145.9 L399.7 146.6 L402.2 147.3 L404.7 147.9 L407.3 148.5 L410.0 149.0 L412.7 149.6 L415.5 150.0 L418.3 150.5 L421.1 150.9 L424.0 151.2 L426.8 151.6 L429.7 151.8 L432.5 152.1 L435.3 152.3 L438.1 152.4 L440.8 152.5 L443.5 152.6 L446.1 152.7 L448.6 152.7 L451.1 152.6 L453.5 152.6 L455.7 152.5 L457.9 152.3 L459.9 152.2 L461.8 152.0 L463.6 151.7 L465.2 151.5 L466.7 151.2 L468.0 151.0 L469.2 150.7 L470.3 150.3 L471.1 150.0 L471.9 149.7 L472.4 149.3 L472.8 148.9 L473.0 148.6 L473.0 148.2" fill="none" stroke="url(#tB)" stroke-width="15.3" stroke-linecap="butt" stroke-linejoin="round" />
<path d="M377.8 131.5 L377.8 132.5 L378.0 133.5 L378.4 134.5 L378.9 135.5 L379.7 136.4 L380.5 137.4 L381.6 138.3 L382.8 139.3 L384.1 140.2 L385.6 141.1 L387.2 141.9 L389.0 142.8 L390.9 143.6 L392.9 144.4 L395.1 145.2 L397.3 145.9 L399.7 146.6 L402.2 147.3 L404.7 147.9 L407.3 148.5 L410.0 149.0 L412.7 149.6 L415.5 150.0 L418.3 150.5 L421.1 150.9 L424.0 151.2 L426.8 151.6 L429.7 151.8 L432.5 152.1 L435.3 152.3 L438.1 152.4 L440.8 152.5 L443.5 152.6 L446.1 152.7 L448.6 152.7 L451.1 152.6 L453.5 152.6 L455.7 152.5 L457.9 152.3 L459.9 152.2 L461.8 152.0 L463.6 151.7 L465.2 151.5 L466.7 151.2 L468.0 151.0 L469.2 150.7 L470.3 150.3 L471.1 150.0 L471.9 149.7 L472.4 149.3 L472.8 148.9 L473.0 148.6 L473.0 148.2" fill="none" stroke="url(#tM)" stroke-width="12.9" stroke-linecap="butt" stroke-linejoin="round" transform="translate(0 -1.2)" filter="url(#fB1)"/>
<path d="M377.8 131.5 L377.8 132.5 L378.0 133.5 L378.4 134.5 L378.9 135.5 L379.7 136.4 L380.5 137.4 L381.6 138.3 L382.8 139.3 L384.1 140.2 L385.6 141.1 L387.2 141.9 L389.0 142.8 L390.9 143.6 L392.9 144.4 L395.1 145.2 L397.3 145.9 L399.7 146.6 L402.2 147.3 L404.7 147.9 L407.3 148.5 L410.0 149.0 L412.7 149.6 L415.5 150.0 L418.3 150.5 L421.1 150.9 L424.0 151.2 L426.8 151.6 L429.7 151.8 L432.5 152.1 L435.3 152.3 L438.1 152.4 L440.8 152.5 L443.5 152.6 L446.1 152.7 L448.6 152.7 L451.1 152.6 L453.5 152.6 L455.7 152.5 L457.9 152.3 L459.9 152.2 L461.8 152.0 L463.6 151.7 L465.2 151.5 L466.7 151.2 L468.0 151.0 L469.2 150.7 L470.3 150.3 L471.1 150.0 L471.9 149.7 L472.4 149.3 L472.8 148.9 L473.0 148.6 L473.0 148.2" fill="none" stroke="url(#tH)" stroke-width="6.9" stroke-linecap="butt" stroke-linejoin="round" transform="translate(-0.3 -2.2)" filter="url(#fB1)"/>
<path d="M377.8 164.5 L377.8 165.5 L378.0 166.5 L378.4 167.5 L378.9 168.5 L379.7 169.5 L380.5 170.4 L381.6 171.4 L382.8 172.3 L384.1 173.3 L385.6 174.2 L387.2 175.0 L389.0 175.9 L390.9 176.7 L392.9 177.5 L395.1 178.3 L397.3 179.1 L399.7 179.8 L402.2 180.4 L404.7 181.1 L407.3 181.7 L410.0 182.2 L412.7 182.8 L415.5 183.2 L418.3 183.7 L421.1 184.1 L424.0 184.4 L426.8 184.8 L429.7 185.0 L432.5 185.3 L435.3 185.5 L438.1 185.6 L440.8 185.7 L443.5 185.8 L446.1 185.8 L448.6 185.8 L451.1 185.8 L453.5 185.7 L455.7 185.6 L457.9 185.5 L459.9 185.3 L461.8 185.1 L463.6 184.8 L465.2 184.6 L466.7 184.3 L468.0 184.0 L469.2 183.7 L470.3 183.4 L471.1 183.0 L471.9 182.7 L472.4 182.3 L472.8 181.9 L473.0 181.5 L473.0 181.1" fill="none" stroke="url(#tE)" stroke-width="16.5" stroke-linecap="butt" stroke-linejoin="round" />
<path d="M377.8 164.5 L377.8 165.5 L378.0 166.5 L378.4 167.5 L378.9 168.5 L379.7 169.5 L380.5 170.4 L381.6 171.4 L382.8 172.3 L384.1 173.3 L385.6 174.2 L387.2 175.0 L389.0 175.9 L390.9 176.7 L392.9 177.5 L395.1 178.3 L397.3 179.1 L399.7 179.8 L402.2 180.4 L404.7 181.1 L407.3 181.7 L410.0 182.2 L412.7 182.8 L415.5 183.2 L418.3 183.7 L421.1 184.1 L424.0 184.4 L426.8 184.8 L429.7 185.0 L432.5 185.3 L435.3 185.5 L438.1 185.6 L440.8 185.7 L443.5 185.8 L446.1 185.8 L448.6 185.8 L451.1 185.8 L453.5 185.7 L455.7 185.6 L457.9 185.5 L459.9 185.3 L461.8 185.1 L463.6 184.8 L465.2 184.6 L466.7 184.3 L468.0 184.0 L469.2 183.7 L470.3 183.4 L471.1 183.0 L471.9 182.7 L472.4 182.3 L472.8 181.9 L473.0 181.5 L473.0 181.1" fill="none" stroke="url(#tB)" stroke-width="15.3" stroke-linecap="butt" stroke-linejoin="round" />
<path d="M377.8 164.5 L377.8 165.5 L378.0 166.5 L378.4 167.5 L378.9 168.5 L379.7 169.5 L380.5 170.4 L381.6 171.4 L382.8 172.3 L384.1 173.3 L385.6 174.2 L387.2 175.0 L389.0 175.9 L390.9 176.7 L392.9 177.5 L395.1 178.3 L397.3 179.1 L399.7 179.8 L402.2 180.4 L404.7 181.1 L407.3 181.7 L410.0 182.2 L412.7 182.8 L415.5 183.2 L418.3 183.7 L421.1 184.1 L424.0 184.4 L426.8 184.8 L429.7 185.0 L432.5 185.3 L435.3 185.5 L438.1 185.6 L440.8 185.7 L443.5 185.8 L446.1 185.8 L448.6 185.8 L451.1 185.8 L453.5 185.7 L455.7 185.6 L457.9 185.5 L459.9 185.3 L461.8 185.1 L463.6 184.8 L465.2 184.6 L466.7 184.3 L468.0 184.0 L469.2 183.7 L470.3 183.4 L471.1 183.0 L471.9 182.7 L472.4 182.3 L472.8 181.9 L473.0 181.5 L473.0 181.1" fill="none" stroke="url(#tM)" stroke-width="12.9" stroke-linecap="butt" stroke-linejoin="round" transform="translate(0 -1.2)" filter="url(#fB1)"/>
<path d="M377.8 164.5 L377.8 165.5 L378.0 166.5 L378.4 167.5 L378.9 168.5 L379.7 169.5 L380.5 170.4 L381.6 171.4 L382.8 172.3 L384.1 173.3 L385.6 174.2 L387.2 175.0 L389.0 175.9 L390.9 176.7 L392.9 177.5 L395.1 178.3 L397.3 179.1 L399.7 179.8 L402.2 180.4 L404.7 181.1 L407.3 181.7 L410.0 182.2 L412.7 182.8 L415.5 183.2 L418.3 183.7 L421.1 184.1 L424.0 184.4 L426.8 184.8 L429.7 185.0 L432.5 185.3 L435.3 185.5 L438.1 185.6 L440.8 185.7 L443.5 185.8 L446.1 185.8 L448.6 185.8 L451.1 185.8 L453.5 185.7 L455.7 185.6 L457.9 185.5 L459.9 185.3 L461.8 185.1 L463.6 184.8 L465.2 184.6 L466.7 184.3 L468.0 184.0 L469.2 183.7 L470.3 183.4 L471.1 183.0 L471.9 182.7 L472.4 182.3 L472.8 181.9 L473.0 181.5 L473.0 181.1" fill="none" stroke="url(#tH)" stroke-width="6.9" stroke-linecap="butt" stroke-linejoin="round" transform="translate(-0.3 -2.2)" filter="url(#fB1)"/>
<path d="M377.8 197.4 L377.8 198.4 L378.0 199.4 L378.4 200.5 L378.9 201.5 L379.7 202.5 L380.5 203.5 L381.6 204.4 L382.8 205.4 L384.1 206.3 L385.6 207.3 L387.2 208.1 L389.0 209.0 L390.9 209.9 L392.9 210.7 L395.1 211.5 L397.3 212.2 L399.7 212.9 L402.2 213.6 L404.7 214.2 L407.3 214.9 L410.0 215.4 L412.7 215.9 L415.5 216.4 L418.3 216.9 L421.1 217.3 L424.0 217.6 L426.8 218.0 L429.7 218.2 L432.5 218.5 L435.3 218.7 L438.1 218.8 L440.8 218.9 L443.5 219.0 L446.1 219.0 L448.6 219.0 L451.1 218.9 L453.5 218.9 L455.7 218.7 L457.9 218.6 L459.9 218.4 L461.8 218.2 L463.6 217.9 L465.2 217.7 L466.7 217.4 L468.0 217.1 L469.2 216.7 L470.3 216.4 L471.1 216.0 L471.9 215.7 L472.4 215.3 L472.8 214.9 L473.0 214.5 L473.0 214.1" fill="none" stroke="url(#tE)" stroke-width="16.5" stroke-linecap="butt" stroke-linejoin="round" />
<path d="M377.8 197.4 L377.8 198.4 L378.0 199.4 L378.4 200.5 L378.9 201.5 L379.7 202.5 L380.5 203.5 L381.6 204.4 L382.8 205.4 L384.1 206.3 L385.6 207.3 L387.2 208.1 L389.0 209.0 L390.9 209.9 L392.9 210.7 L395.1 211.5 L397.3 212.2 L399.7 212.9 L402.2 213.6 L404.7 214.2 L407.3 214.9 L410.0 215.4 L412.7 215.9 L415.5 216.4 L418.3 216.9 L421.1 217.3 L424.0 217.6 L426.8 218.0 L429.7 218.2 L432.5 218.5 L435.3 218.7 L438.1 218.8 L440.8 218.9 L443.5 219.0 L446.1 219.0 L448.6 219.0 L451.1 218.9 L453.5 218.9 L455.7 218.7 L457.9 218.6 L459.9 218.4 L461.8 218.2 L463.6 217.9 L465.2 217.7 L466.7 217.4 L468.0 217.1 L469.2 216.7 L470.3 216.4 L471.1 216.0 L471.9 215.7 L472.4 215.3 L472.8 214.9 L473.0 214.5 L473.0 214.1" fill="none" stroke="url(#tB)" stroke-width="15.3" stroke-linecap="butt" stroke-linejoin="round" />
<path d="M377.8 197.4 L377.8 198.4 L378.0 199.4 L378.4 200.5 L378.9 201.5 L379.7 202.5 L380.5 203.5 L381.6 204.4 L382.8 205.4 L384.1 206.3 L385.6 207.3 L387.2 208.1 L389.0 209.0 L390.9 209.9 L392.9 210.7 L395.1 211.5 L397.3 212.2 L399.7 212.9 L402.2 213.6 L404.7 214.2 L407.3 214.9 L410.0 215.4 L412.7 215.9 L415.5 216.4 L418.3 216.9 L421.1 217.3 L424.0 217.6 L426.8 218.0 L429.7 218.2 L432.5 218.5 L435.3 218.7 L438.1 218.8 L440.8 218.9 L443.5 219.0 L446.1 219.0 L448.6 219.0 L451.1 218.9 L453.5 218.9 L455.7 218.7 L457.9 218.6 L459.9 218.4 L461.8 218.2 L463.6 217.9 L465.2 217.7 L466.7 217.4 L468.0 217.1 L469.2 216.7 L470.3 216.4 L471.1 216.0 L471.9 215.7 L472.4 215.3 L472.8 214.9 L473.0 214.5 L473.0 214.1" fill="none" stroke="url(#tM)" stroke-width="12.9" stroke-linecap="butt" stroke-linejoin="round" transform="translate(0 -1.2)" filter="url(#fB1)"/>
<path d="M377.8 197.4 L377.8 198.4 L378.0 199.4 L378.4 200.5 L378.9 201.5 L379.7 202.5 L380.5 203.5 L381.6 204.4 L382.8 205.4 L384.1 206.3 L385.6 207.3 L387.2 208.1 L389.0 209.0 L390.9 209.9 L392.9 210.7 L395.1 211.5 L397.3 212.2 L399.7 212.9 L402.2 213.6 L404.7 214.2 L407.3 214.9 L410.0 215.4 L412.7 215.9 L415.5 216.4 L418.3 216.9 L421.1 217.3 L424.0 217.6 L426.8 218.0 L429.7 218.2 L432.5 218.5 L435.3 218.7 L438.1 218.8 L440.8 218.9 L443.5 219.0 L446.1 219.0 L448.6 219.0 L451.1 218.9 L453.5 218.9 L455.7 218.7 L457.9 218.6 L459.9 218.4 L461.8 218.2 L463.6 217.9 L465.2 217.7 L466.7 217.4 L468.0 217.1 L469.2 216.7 L470.3 216.4 L471.1 216.0 L471.9 215.7 L472.4 215.3 L472.8 214.9 L473.0 214.5 L473.0 214.1" fill="none" stroke="url(#tH)" stroke-width="6.9" stroke-linecap="butt" stroke-linejoin="round" transform="translate(-0.3 -2.2)" filter="url(#fB1)"/>
<g clip-path="url(#cLead2)"><path d="M377.9 229.8 L377.8 230.7 L377.9 231.6 L378.1 232.5 L378.4 233.5 L378.9 234.4 L379.5 235.3 L380.2 236.2 L381.1 237.1 L382.1 237.9 L383.2 238.8 L384.4 239.6 L385.8 240.4 L387.2 241.3 L388.8 242.0 L390.5 242.8 L392.3 243.5 L394.1 244.3 L396.1 245.0 L398.2 245.6 L400.3 246.3 L402.5 246.9 L404.7 247.4 L407.0 248.0 L409.4 248.5 L411.8 249.0 L414.3 249.4 L416.8 249.8 L419.3 250.2 L421.8 250.6 L424.4 250.9 L426.9 251.2 L429.4 251.4 L432.0 251.6 L434.5 251.8 L436.9 251.9 L439.4 252.0 L441.8 252.1 L444.2 252.2 L446.5 252.2 L448.7 252.2 L450.9 252.1 L453.0 252.0 L455.0 251.9 L457.0 251.8 L458.8 251.6 L460.6 251.4 L462.3 251.2 L463.8 251.0 L465.3 250.8 L466.6 250.5 L467.8 250.2 L478.0 246.6 L492.0 242.7 L655.0 200.6" fill="none" stroke="url(#tE)" stroke-width="16.5" stroke-linecap="butt" stroke-linejoin="round" />
<path d="M377.9 229.8 L377.8 230.7 L377.9 231.6 L378.1 232.5 L378.4 233.5 L378.9 234.4 L379.5 235.3 L380.2 236.2 L381.1 237.1 L382.1 237.9 L383.2 238.8 L384.4 239.6 L385.8 240.4 L387.2 241.3 L388.8 242.0 L390.5 242.8 L392.3 243.5 L394.1 244.3 L396.1 245.0 L398.2 245.6 L400.3 246.3 L402.5 246.9 L404.7 247.4 L407.0 248.0 L409.4 248.5 L411.8 249.0 L414.3 249.4 L416.8 249.8 L419.3 250.2 L421.8 250.6 L424.4 250.9 L426.9 251.2 L429.4 251.4 L432.0 251.6 L434.5 251.8 L436.9 251.9 L439.4 252.0 L441.8 252.1 L444.2 252.2 L446.5 252.2 L448.7 252.2 L450.9 252.1 L453.0 252.0 L455.0 251.9 L457.0 251.8 L458.8 251.6 L460.6 251.4 L462.3 251.2 L463.8 251.0 L465.3 250.8 L466.6 250.5 L467.8 250.2 L478.0 246.6 L492.0 242.7 L655.0 200.6" fill="none" stroke="url(#tB)" stroke-width="15.3" stroke-linecap="butt" stroke-linejoin="round" />
<path d="M377.9 229.8 L377.8 230.7 L377.9 231.6 L378.1 232.5 L378.4 233.5 L378.9 234.4 L379.5 235.3 L380.2 236.2 L381.1 237.1 L382.1 237.9 L383.2 238.8 L384.4 239.6 L385.8 240.4 L387.2 241.3 L388.8 242.0 L390.5 242.8 L392.3 243.5 L394.1 244.3 L396.1 245.0 L398.2 245.6 L400.3 246.3 L402.5 246.9 L404.7 247.4 L407.0 248.0 L409.4 248.5 L411.8 249.0 L414.3 249.4 L416.8 249.8 L419.3 250.2 L421.8 250.6 L424.4 250.9 L426.9 251.2 L429.4 251.4 L432.0 251.6 L434.5 251.8 L436.9 251.9 L439.4 252.0 L441.8 252.1 L444.2 252.2 L446.5 252.2 L448.7 252.2 L450.9 252.1 L453.0 252.0 L455.0 251.9 L457.0 251.8 L458.8 251.6 L460.6 251.4 L462.3 251.2 L463.8 251.0 L465.3 250.8 L466.6 250.5 L467.8 250.2 L478.0 246.6 L492.0 242.7 L655.0 200.6" fill="none" stroke="url(#tM)" stroke-width="12.9" stroke-linecap="butt" stroke-linejoin="round" transform="translate(0 -1.2)" filter="url(#fB1)"/>
<path d="M377.9 229.8 L377.8 230.7 L377.9 231.6 L378.1 232.5 L378.4 233.5 L378.9 234.4 L379.5 235.3 L380.2 236.2 L381.1 237.1 L382.1 237.9 L383.2 238.8 L384.4 239.6 L385.8 240.4 L387.2 241.3 L388.8 242.0 L390.5 242.8 L392.3 243.5 L394.1 244.3 L396.1 245.0 L398.2 245.6 L400.3 246.3 L402.5 246.9 L404.7 247.4 L407.0 248.0 L409.4 248.5 L411.8 249.0 L414.3 249.4 L416.8 249.8 L419.3 250.2 L421.8 250.6 L424.4 250.9 L426.9 251.2 L429.4 251.4 L432.0 251.6 L434.5 251.8 L436.9 251.9 L439.4 252.0 L441.8 252.1 L444.2 252.2 L446.5 252.2 L448.7 252.2 L450.9 252.1 L453.0 252.0 L455.0 251.9 L457.0 251.8 L458.8 251.6 L460.6 251.4 L462.3 251.2 L463.8 251.0 L465.3 250.8 L466.6 250.5 L467.8 250.2 L478.0 246.6 L492.0 242.7 L655.0 200.6" fill="none" stroke="url(#tH)" stroke-width="6.9" stroke-linecap="butt" stroke-linejoin="round" transform="translate(-0.3 -2.2)" filter="url(#fB1)"/></g>
<path d="M424.1 281.5 L435.4 300.3 L427.8 300.3 L427.8 326.2 L435.4 326.2 L424.1 345.9 L412.9 326.2 L420.9 326.2 L420.9 300.3 L412.9 300.3 Z" fill="#000"/>
<path d="M380.1 -0.3 L415.7 5.3 L405.9 7.4 L422.9 13.2 L444.5 10.2 L437.6 7.8 L474.4 8.8 L460.9 15.9 L452.7 12.9 L427.6 16.1 L449 22.1 L459.1 20.4 L464.8 29.3 L430.2 24.1 L439.6 22.9 L419.3 16.9 L401 19.5 L407.9 22.1 L371.1 21.1 L384.2 13.9 L392.4 17.2 L414.6 14.2 L396.5 7.8 L386.3 9.2 Z" fill="#000" stroke="#000" stroke-width="0.5" stroke-linejoin="miter"/>
<line x1="569.2" y1="62" x2="569.2" y2="99" stroke="#000" stroke-width="2"/>
<line x1="569.2" y1="182" x2="569.2" y2="214" stroke="#000" stroke-width="2"/>
<circle cx="569.8" cy="140.4" r="41.4" fill="#fff" stroke="#000" stroke-width="2.5"/>
<path d="M578.6 107.8 L554.9 144.3 L563.6 142.8 L552.0 167.9 L578.1 131.5 L569.9 133.1 Z" fill="#000"/>
<line x1="299.6" y1="124.6" x2="377.5" y2="135.6" stroke="#000" stroke-width="1.5"/>
<circle cx="377.5" cy="135.6" r="4.5" fill="#000"/>
<circle cx="272.7" cy="121.5" r="26.6" fill="#fff" stroke="#000" stroke-width="1.7"/>
<text x="272.7" y="134.1" font-family="'Liberation Sans', sans-serif" font-weight="700" font-size="36.5" text-anchor="middle" fill="#000">1</text>
<line x1="326.6" y1="321.4" x2="404.0" y2="331.3" stroke="#000" stroke-width="1.5"/>
<circle cx="404.0" cy="331.3" r="4.6" fill="#000"/>
<circle cx="299.4" cy="317.2" r="27.0" fill="#fff" stroke="#000" stroke-width="1.7"/>
<text x="299.4" y="329.8" font-family="'Liberation Sans', sans-serif" font-weight="700" font-size="36.5" text-anchor="middle" fill="#000">2</text>
<path d="M412.1 819.6 L420.4 814.6 L428.7 819.6 L420.4 824.6 Z" fill="#b9b9b9"/>
<path d="M412.1 819.6 L420.4 824.6 L420.4 833.9 L412.1 828.9 Z" fill="#76767a"/>
<path d="M420.4 824.6 L428.7 819.6 L428.7 828.9 L420.4 833.9 Z" fill="#222222"/>
<path d="M428.7 819.6 L437.0 814.6 L445.3 819.6 L437.0 824.6 Z" fill="#b9b9b9"/>
<path d="M428.7 819.6 L437.0 824.6 L437.0 833.9 L428.7 828.9 Z" fill="#76767a"/>
<path d="M437.0 824.6 L445.3 819.6 L445.3 828.9 L437.0 833.9 Z" fill="#222222"/>
<path d="M428.7 810.3 L437.0 805.3 L437.0 814.6 L428.7 819.6 Z" fill="#222222"/>
<path d="M445.3 819.6 L453.6 824.6 L453.6 833.9 L445.3 828.9 Z" fill="#838387"/>
<path d="M437.0 833.9 L445.3 828.9 L453.6 833.9 L445.3 838.9 Z" fill="#b9b9b9"/>
<path d="M437.0 833.9 L445.3 838.9 L445.3 848.2 L437.0 843.2 Z" fill="#838387"/>
<path d="M403.8 833.9 L412.1 828.9 L420.4 833.9 L412.1 838.9 Z" fill="#c2c2c2"/>
<text x="476.2 495.6 514.0 530.6 544.9 556.6 573.2 587.2 601.4 617.3 626.7 636.7 652.6" y="836.9" text-anchor="middle" font-family="'Liberation Sans', sans-serif" font-weight="700" font-size="26.8" fill="#000" stroke="#000" stroke-width="0.8" stroke-linejoin="round">MANUFACTURING</text>
<text transform="scale(0.84 1)" x="798.3 822.1 834.3 848.3 864.3" y="837.2" text-anchor="middle" font-family="'Liberation Sans', sans-serif" font-weight="400" font-size="27.6" fill="#000" stroke="#fff" stroke-width="0.45">GUIDE</text>
</svg>
</body></html>
